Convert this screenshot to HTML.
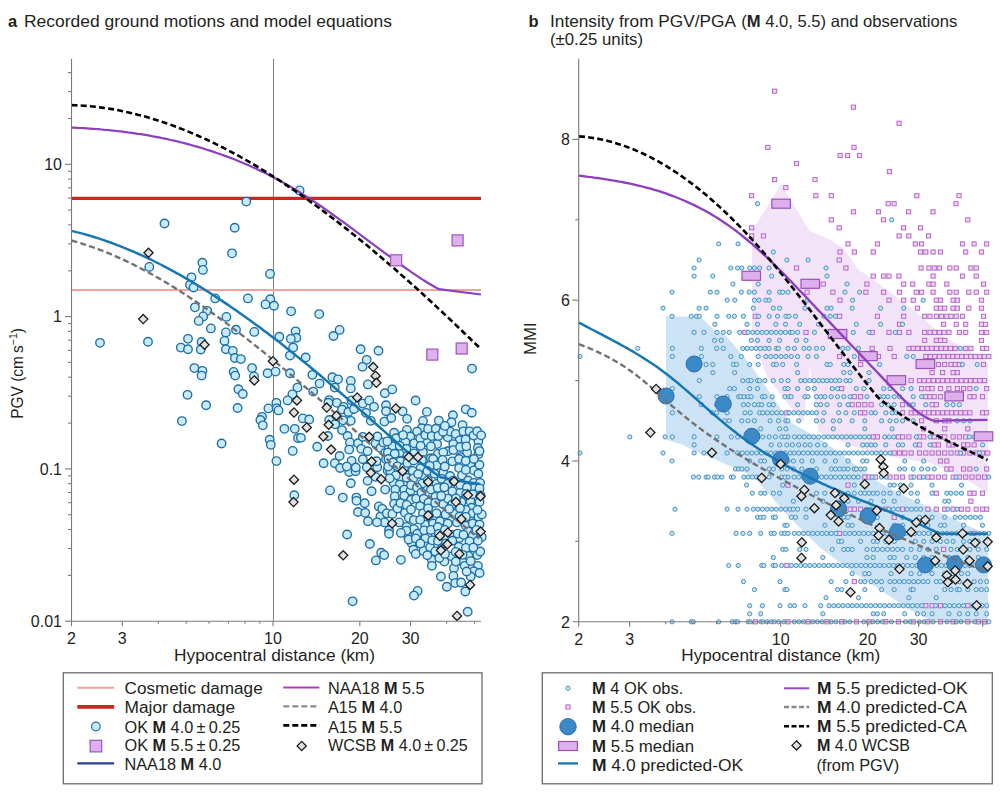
<!DOCTYPE html>
<html><head><meta charset="utf-8"><title>Ground motions and intensity</title>
<style>
html,body{margin:0;padding:0;background:#fff;}
body{width:1000px;height:796px;overflow:hidden;}
svg{display:block;}
svg text{font-family:'Liberation Sans', 'DejaVu Sans', sans-serif;fill:#231f20;}
</style></head><body>
<svg width="1000" height="796" viewBox="0 0 1000 796">
<text x="8" y="26.6" font-size="16.5" font-weight="bold">a</text>
<text x="24" y="26.6" font-size="16.5" textLength="368" lengthAdjust="spacingAndGlyphs">Recorded ground motions and model equations</text>
<text x="528.4" y="26.6" font-size="16.5" font-weight="bold">b</text>
<text x="550" y="26.6" font-size="16.5" textLength="186" lengthAdjust="spacingAndGlyphs">Intensity from PGV/PGA</text>
<text x="741.2" y="26.6" font-size="16.5" textLength="216" lengthAdjust="spacingAndGlyphs">(<tspan font-weight="bold">M</tspan> 4.0, 5.5) and observations</text>
<text x="550" y="44.6" font-size="16.5" textLength="93" lengthAdjust="spacingAndGlyphs">(±0.25 units)</text>
<line x1="273.5" y1="58.8" x2="273.5" y2="621.3" stroke="#808080" stroke-width="1"/>
<line x1="71.5" y1="289.9" x2="481" y2="289.9" stroke="#f3a39c" stroke-width="2"/>
<line x1="71.5" y1="198.4" x2="481" y2="198.4" stroke="#c9281f" stroke-width="3.4"/>
<g fill="#c9eaf9" stroke="#1c6fa6" stroke-width="1.35">
<circle cx="164.5" cy="223.5" r="4.25"/>
<circle cx="234.7" cy="227.7" r="4.25"/>
<circle cx="232" cy="253.3" r="4.25"/>
<circle cx="149.3" cy="266.9" r="4.25"/>
<circle cx="202.4" cy="262.7" r="4.25"/>
<circle cx="202.9" cy="269.9" r="4.25"/>
<circle cx="191.5" cy="277.3" r="4.25"/>
<circle cx="190" cy="284.8" r="4.25"/>
<circle cx="193.6" cy="287.5" r="4.25"/>
<circle cx="215.2" cy="298.4" r="4.25"/>
<circle cx="100" cy="342.8" r="4.25"/>
<circle cx="148" cy="341.7" r="4.25"/>
<circle cx="194.9" cy="307.3" r="4.25"/>
<circle cx="207.2" cy="310.8" r="4.25"/>
<circle cx="203.2" cy="316.4" r="4.25"/>
<circle cx="198.7" cy="320.9" r="4.25"/>
<circle cx="226.4" cy="316.9" r="4.25"/>
<circle cx="210.9" cy="328.4" r="4.25"/>
<circle cx="236" cy="329.7" r="4.25"/>
<circle cx="225.9" cy="332.4" r="4.25"/>
<circle cx="224.5" cy="340.9" r="4.25"/>
<circle cx="188" cy="338.8" r="4.25"/>
<circle cx="180.8" cy="347.6" r="4.25"/>
<circle cx="188" cy="349.2" r="4.25"/>
<circle cx="201.6" cy="342" r="4.25"/>
<circle cx="200.8" cy="349.5" r="4.25"/>
<circle cx="225.9" cy="349.2" r="4.25"/>
<circle cx="232.8" cy="350.8" r="4.25"/>
<circle cx="234.9" cy="358" r="4.25"/>
<circle cx="194.4" cy="368.1" r="4.25"/>
<circle cx="202.4" cy="370.8" r="4.25"/>
<circle cx="201.6" cy="375.6" r="4.25"/>
<circle cx="233.6" cy="371.9" r="4.25"/>
<circle cx="235.2" cy="375.6" r="4.25"/>
<circle cx="238.4" cy="389.2" r="4.25"/>
<circle cx="187.5" cy="394.8" r="4.25"/>
<circle cx="206.1" cy="405.2" r="4.25"/>
<circle cx="237.6" cy="408" r="4.25"/>
<circle cx="181.9" cy="421.1" r="4.25"/>
<circle cx="221.6" cy="443.5" r="4.25"/>
<circle cx="299.6" cy="190.4" r="4.25"/>
<circle cx="246.3" cy="201.6" r="4.25"/>
<circle cx="270" cy="273.9" r="4.25"/>
<circle cx="247.9" cy="298.4" r="4.25"/>
<circle cx="270.3" cy="299.2" r="4.25"/>
<circle cx="319.2" cy="314.1" r="4.25"/>
<circle cx="339.6" cy="329.9" r="4.25"/>
<circle cx="333.5" cy="336" r="4.25"/>
<circle cx="360.6" cy="349.2" r="4.25"/>
<circle cx="378.5" cy="350.7" r="4.25"/>
<circle cx="305.7" cy="357.5" r="4.25"/>
<circle cx="366.7" cy="359.8" r="4.25"/>
<circle cx="265.5" cy="304.4" r="4.25"/>
<circle cx="274" cy="305.7" r="4.25"/>
<circle cx="291.1" cy="311.3" r="4.25"/>
<circle cx="254.3" cy="331.9" r="4.25"/>
<circle cx="279.3" cy="336.7" r="4.25"/>
<circle cx="295.6" cy="331.3" r="4.25"/>
<circle cx="296.4" cy="337.7" r="4.25"/>
<circle cx="290.8" cy="338.8" r="4.25"/>
<circle cx="293.2" cy="347.6" r="4.25"/>
<circle cx="290" cy="355.6" r="4.25"/>
<circle cx="240.9" cy="359.1" r="4.25"/>
<circle cx="252.1" cy="368.1" r="4.25"/>
<circle cx="267.6" cy="373.2" r="4.25"/>
<circle cx="275.6" cy="371.6" r="4.25"/>
<circle cx="254" cy="376.4" r="4.25"/>
<circle cx="290" cy="373.2" r="4.25"/>
<circle cx="312.4" cy="374.8" r="4.25"/>
<circle cx="319.6" cy="383.6" r="4.25"/>
<circle cx="313.2" cy="391.6" r="4.25"/>
<circle cx="297.5" cy="387.6" r="4.25"/>
<circle cx="292.4" cy="394.3" r="4.25"/>
<circle cx="287.6" cy="400.4" r="4.25"/>
<circle cx="242.8" cy="394" r="4.25"/>
<circle cx="268.4" cy="408.4" r="4.25"/>
<circle cx="276.4" cy="402.8" r="4.25"/>
<circle cx="276.7" cy="408.4" r="4.25"/>
<circle cx="362.5" cy="366.8" r="4.25"/>
<circle cx="332.4" cy="377.2" r="4.25"/>
<circle cx="338" cy="379.3" r="4.25"/>
<circle cx="334.8" cy="387.6" r="4.25"/>
<circle cx="350.8" cy="380.9" r="4.25"/>
<circle cx="350.8" cy="388.4" r="4.25"/>
<circle cx="367.9" cy="384.4" r="4.25"/>
<circle cx="384.9" cy="393.2" r="4.25"/>
<circle cx="329.2" cy="400.1" r="4.25"/>
<circle cx="336.9" cy="402.8" r="4.25"/>
<circle cx="343.6" cy="406.8" r="4.25"/>
<circle cx="351.6" cy="400.4" r="4.25"/>
<circle cx="362.8" cy="403.6" r="4.25"/>
<circle cx="369.2" cy="400.4" r="4.25"/>
<circle cx="374" cy="406.8" r="4.25"/>
<circle cx="386" cy="405.2" r="4.25"/>
<circle cx="278.5" cy="410.4" r="4.25"/>
<circle cx="262" cy="416.8" r="4.25"/>
<circle cx="260.4" cy="420" r="4.25"/>
<circle cx="262.8" cy="425.3" r="4.25"/>
<circle cx="284.4" cy="428.8" r="4.25"/>
<circle cx="294.8" cy="428.8" r="4.25"/>
<circle cx="298" cy="438.1" r="4.25"/>
<circle cx="302.8" cy="418.4" r="4.25"/>
<circle cx="309.2" cy="419.5" r="4.25"/>
<circle cx="269.7" cy="439.7" r="4.25"/>
<circle cx="270.8" cy="444.8" r="4.25"/>
<circle cx="292.7" cy="450.9" r="4.25"/>
<circle cx="276.4" cy="461.1" r="4.25"/>
<circle cx="317.2" cy="446.7" r="4.25"/>
<circle cx="327.9" cy="436" r="4.25"/>
<circle cx="329.2" cy="420" r="4.25"/>
<circle cx="323.6" cy="463.2" r="4.25"/>
<circle cx="330" cy="490.4" r="4.25"/>
<circle cx="342.8" cy="497.6" r="4.25"/>
<circle cx="294.3" cy="495.2" r="4.25"/>
<circle cx="334.8" cy="463.2" r="4.25"/>
<circle cx="339.6" cy="456" r="4.25"/>
<circle cx="340.1" cy="468" r="4.25"/>
<circle cx="342" cy="430.1" r="4.25"/>
<circle cx="347.6" cy="436" r="4.25"/>
<circle cx="350" cy="442.4" r="4.25"/>
<circle cx="349.2" cy="449.6" r="4.25"/>
<circle cx="351.6" cy="460.8" r="4.25"/>
<circle cx="349.2" cy="472" r="4.25"/>
<circle cx="355.6" cy="471.2" r="4.25"/>
<circle cx="350.8" cy="483.2" r="4.25"/>
<circle cx="358" cy="443.2" r="4.25"/>
<circle cx="362.8" cy="436.8" r="4.25"/>
<circle cx="361.2" cy="448.8" r="4.25"/>
<circle cx="367.6" cy="451.2" r="4.25"/>
<circle cx="362.8" cy="459.2" r="4.25"/>
<circle cx="366.8" cy="467.2" r="4.25"/>
<circle cx="367.6" cy="480.8" r="4.25"/>
<circle cx="371.6" cy="491.2" r="4.25"/>
<circle cx="356.4" cy="497.6" r="4.25"/>
<circle cx="364.7" cy="503.2" r="4.25"/>
<circle cx="358" cy="512" r="4.25"/>
<circle cx="365.2" cy="512.8" r="4.25"/>
<circle cx="378.8" cy="506.4" r="4.25"/>
<circle cx="383.6" cy="512" r="4.25"/>
<circle cx="380.4" cy="516.5" r="4.25"/>
<circle cx="385.2" cy="489.6" r="4.25"/>
<circle cx="387.6" cy="470.4" r="4.25"/>
<circle cx="375.6" cy="443.2" r="4.25"/>
<circle cx="380.4" cy="448" r="4.25"/>
<circle cx="385.2" cy="452.8" r="4.25"/>
<circle cx="386" cy="459.2" r="4.25"/>
<circle cx="377.2" cy="467.2" r="4.25"/>
<circle cx="375.6" cy="476.8" r="4.25"/>
<circle cx="350.8" cy="420.8" r="4.25"/>
<circle cx="342" cy="409.6" r="4.25"/>
<circle cx="348.4" cy="412" r="4.25"/>
<circle cx="366" cy="412.8" r="4.25"/>
<circle cx="370.8" cy="420.8" r="4.25"/>
<circle cx="386" cy="411.2" r="4.25"/>
<circle cx="384.4" cy="421.6" r="4.25"/>
<circle cx="472" cy="368.6" r="4.25"/>
<circle cx="392.2" cy="389.4" r="4.25"/>
<circle cx="415.6" cy="400.5" r="4.25"/>
<circle cx="402.6" cy="411.3" r="4.25"/>
<circle cx="391.3" cy="418" r="4.25"/>
<circle cx="407.1" cy="418.8" r="4.25"/>
<circle cx="426.9" cy="411.8" r="4.25"/>
<circle cx="423" cy="420.9" r="4.25"/>
<circle cx="421.8" cy="428.2" r="4.25"/>
<circle cx="438.8" cy="420.6" r="4.25"/>
<circle cx="452.9" cy="415.2" r="4.25"/>
<circle cx="451.5" cy="422.2" r="4.25"/>
<circle cx="462.5" cy="425.1" r="4.25"/>
<circle cx="465.7" cy="409.3" r="4.25"/>
<circle cx="471.8" cy="412.7" r="4.25"/>
<circle cx="394.1" cy="432.7" r="4.25"/>
<circle cx="406.9" cy="429.9" r="4.25"/>
<circle cx="410.3" cy="436.5" r="4.25"/>
<circle cx="405.4" cy="442.1" r="4.25"/>
<circle cx="383.4" cy="442.4" r="4.25"/>
<circle cx="392.4" cy="446.3" r="4.25"/>
<circle cx="387.9" cy="452.5" r="4.25"/>
<circle cx="426.4" cy="442.1" r="4.25"/>
<circle cx="437.1" cy="444.1" r="4.25"/>
<circle cx="447.8" cy="437.3" r="4.25"/>
<circle cx="450.1" cy="431.6" r="4.25"/>
<circle cx="455.7" cy="433.9" r="4.25"/>
<circle cx="459.7" cy="440.3" r="4.25"/>
<circle cx="453.3" cy="444.1" r="4.25"/>
<circle cx="447.8" cy="451.2" r="4.25"/>
<circle cx="437.9" cy="453.9" r="4.25"/>
<circle cx="430.9" cy="458.2" r="4.25"/>
<circle cx="467.1" cy="452.5" r="4.25"/>
<circle cx="460.3" cy="457.1" r="4.25"/>
<circle cx="478.4" cy="441.2" r="4.25"/>
<circle cx="477.8" cy="448" r="4.25"/>
<circle cx="478.4" cy="454.2" r="4.25"/>
<circle cx="412.8" cy="449.7" r="4.25"/>
<circle cx="400.4" cy="452.5" r="4.25"/>
<circle cx="394.7" cy="453.7" r="4.25"/>
<circle cx="388.5" cy="459" r="4.25"/>
<circle cx="400.4" cy="461.3" r="4.25"/>
<circle cx="413.9" cy="453.4" r="4.25"/>
<circle cx="423" cy="452.3" r="4.25"/>
<circle cx="433.1" cy="459" r="4.25"/>
<circle cx="436.5" cy="465.3" r="4.25"/>
<circle cx="443.3" cy="452.3" r="4.25"/>
<circle cx="452.4" cy="461.3" r="4.25"/>
<circle cx="459.1" cy="459" r="4.25"/>
<circle cx="479.5" cy="451.1" r="4.25"/>
<circle cx="390.2" cy="470.9" r="4.25"/>
<circle cx="395.8" cy="475.4" r="4.25"/>
<circle cx="412.8" cy="470.9" r="4.25"/>
<circle cx="420.7" cy="468.1" r="4.25"/>
<circle cx="423.5" cy="475.4" r="4.25"/>
<circle cx="429.7" cy="465.8" r="4.25"/>
<circle cx="443.3" cy="472.6" r="4.25"/>
<circle cx="450.1" cy="476" r="4.25"/>
<circle cx="459.1" cy="468.1" r="4.25"/>
<circle cx="462" cy="475.4" r="4.25"/>
<circle cx="470.4" cy="464.7" r="4.25"/>
<circle cx="473.8" cy="470.4" r="4.25"/>
<circle cx="478.4" cy="473.7" r="4.25"/>
<circle cx="479.5" cy="464.7" r="4.25"/>
<circle cx="393.6" cy="482.8" r="4.25"/>
<circle cx="399.8" cy="484.5" r="4.25"/>
<circle cx="406.6" cy="477.7" r="4.25"/>
<circle cx="413.4" cy="478.3" r="4.25"/>
<circle cx="422.4" cy="483.4" r="4.25"/>
<circle cx="436.5" cy="483.9" r="4.25"/>
<circle cx="441.6" cy="478.8" r="4.25"/>
<circle cx="447.8" cy="483.9" r="4.25"/>
<circle cx="468.2" cy="480.5" r="4.25"/>
<circle cx="473.8" cy="482.8" r="4.25"/>
<circle cx="480.1" cy="482.8" r="4.25"/>
<circle cx="395.3" cy="489.6" r="4.25"/>
<circle cx="404.3" cy="489.6" r="4.25"/>
<circle cx="410.5" cy="490.7" r="4.25"/>
<circle cx="430.9" cy="489.6" r="4.25"/>
<circle cx="437.7" cy="487.9" r="4.25"/>
<circle cx="444.4" cy="487.3" r="4.25"/>
<circle cx="452.4" cy="491.3" r="4.25"/>
<circle cx="460.3" cy="492.4" r="4.25"/>
<circle cx="473.8" cy="488.4" r="4.25"/>
<circle cx="479.5" cy="488.4" r="4.25"/>
<circle cx="394.7" cy="496.4" r="4.25"/>
<circle cx="394.1" cy="503.7" r="4.25"/>
<circle cx="404.3" cy="495.8" r="4.25"/>
<circle cx="411.1" cy="499.7" r="4.25"/>
<circle cx="416.2" cy="498.6" r="4.25"/>
<circle cx="420.1" cy="506" r="4.25"/>
<circle cx="435.4" cy="496.9" r="4.25"/>
<circle cx="443.3" cy="504.3" r="4.25"/>
<circle cx="447.8" cy="498.6" r="4.25"/>
<circle cx="452.4" cy="504.3" r="4.25"/>
<circle cx="461.4" cy="502" r="4.25"/>
<circle cx="470.4" cy="500.9" r="4.25"/>
<circle cx="471.6" cy="507.7" r="4.25"/>
<circle cx="479.5" cy="502" r="4.25"/>
<circle cx="382.3" cy="508.8" r="4.25"/>
<circle cx="386.8" cy="513.3" r="4.25"/>
<circle cx="392.4" cy="513.9" r="4.25"/>
<circle cx="404.9" cy="512.7" r="4.25"/>
<circle cx="408.8" cy="517.8" r="4.25"/>
<circle cx="413.9" cy="520.1" r="4.25"/>
<circle cx="423" cy="513.3" r="4.25"/>
<circle cx="436.5" cy="513.3" r="4.25"/>
<circle cx="445.6" cy="514.4" r="4.25"/>
<circle cx="454.1" cy="513.9" r="4.25"/>
<circle cx="465.9" cy="509.9" r="4.25"/>
<circle cx="472.7" cy="513.3" r="4.25"/>
<circle cx="478.4" cy="516.7" r="4.25"/>
<circle cx="481.8" cy="514.4" r="4.25"/>
<circle cx="384.5" cy="522.4" r="4.25"/>
<circle cx="389" cy="530.3" r="4.25"/>
<circle cx="399.2" cy="522.4" r="4.25"/>
<circle cx="406.6" cy="526.9" r="4.25"/>
<circle cx="413.9" cy="529.1" r="4.25"/>
<circle cx="425.2" cy="524.6" r="4.25"/>
<circle cx="433.1" cy="523.5" r="4.25"/>
<circle cx="439.9" cy="521.2" r="4.25"/>
<circle cx="447.8" cy="523.5" r="4.25"/>
<circle cx="456.9" cy="522.4" r="4.25"/>
<circle cx="465.9" cy="525.7" r="4.25"/>
<circle cx="472.7" cy="523.5" r="4.25"/>
<circle cx="479.5" cy="524.6" r="4.25"/>
<circle cx="389" cy="533.7" r="4.25"/>
<circle cx="408.3" cy="537.1" r="4.25"/>
<circle cx="417.3" cy="533.7" r="4.25"/>
<circle cx="427.5" cy="535.9" r="4.25"/>
<circle cx="452.4" cy="534.8" r="4.25"/>
<circle cx="459.1" cy="538.2" r="4.25"/>
<circle cx="468.2" cy="531.4" r="4.25"/>
<circle cx="472.7" cy="535.9" r="4.25"/>
<circle cx="481.8" cy="537.1" r="4.25"/>
<circle cx="406.3" cy="530.6" r="4.25"/>
<circle cx="411.6" cy="543.1" r="4.25"/>
<circle cx="408.6" cy="539.5" r="4.25"/>
<circle cx="415.8" cy="538.4" r="4.25"/>
<circle cx="425.3" cy="538.4" r="4.25"/>
<circle cx="413.4" cy="549.7" r="4.25"/>
<circle cx="415.8" cy="553.9" r="4.25"/>
<circle cx="423.6" cy="550.9" r="4.25"/>
<circle cx="430.1" cy="547.3" r="4.25"/>
<circle cx="431.9" cy="559.8" r="4.25"/>
<circle cx="431.9" cy="565.8" r="4.25"/>
<circle cx="444.4" cy="561.6" r="4.25"/>
<circle cx="381.2" cy="552.7" r="4.25"/>
<circle cx="384.2" cy="555.1" r="4.25"/>
<circle cx="400.9" cy="559.8" r="4.25"/>
<circle cx="454" cy="568.2" r="4.25"/>
<circle cx="462.9" cy="562.2" r="4.25"/>
<circle cx="464.7" cy="565.8" r="4.25"/>
<circle cx="451.6" cy="556.3" r="4.25"/>
<circle cx="468.3" cy="555.7" r="4.25"/>
<circle cx="477.3" cy="555.1" r="4.25"/>
<circle cx="480.2" cy="551.5" r="4.25"/>
<circle cx="469.5" cy="541.3" r="4.25"/>
<circle cx="477.9" cy="540.7" r="4.25"/>
<circle cx="458.8" cy="546.7" r="4.25"/>
<circle cx="465.9" cy="547.9" r="4.25"/>
<circle cx="477.9" cy="565.8" r="4.25"/>
<circle cx="473.7" cy="571.2" r="4.25"/>
<circle cx="479.6" cy="573" r="4.25"/>
<circle cx="470.7" cy="576.5" r="4.25"/>
<circle cx="440.9" cy="576.5" r="4.25"/>
<circle cx="453.4" cy="575.9" r="4.25"/>
<circle cx="455.2" cy="583.1" r="4.25"/>
<circle cx="446.8" cy="586.7" r="4.25"/>
<circle cx="461.1" cy="582.5" r="4.25"/>
<circle cx="465.3" cy="591.5" r="4.25"/>
<circle cx="417.6" cy="590.9" r="4.25"/>
<circle cx="414" cy="595.6" r="4.25"/>
<circle cx="467.7" cy="611.7" r="4.25"/>
<circle cx="457.6" cy="533.6" r="4.25"/>
<circle cx="463.5" cy="534.8" r="4.25"/>
<circle cx="356.5" cy="500.8" r="4.25"/>
<circle cx="368" cy="521.2" r="4.25"/>
<circle cx="377" cy="522.3" r="4.25"/>
<circle cx="347.1" cy="534.5" r="4.25"/>
<circle cx="369.9" cy="544" r="4.25"/>
<circle cx="375.9" cy="560.4" r="4.25"/>
<circle cx="352.6" cy="601.3" r="4.25"/>
<circle cx="300.9" cy="437.8" r="4.25"/>
<circle cx="328.4" cy="402.7" r="4.25"/>
<circle cx="354" cy="409" r="4.25"/>
<circle cx="343.2" cy="420.3" r="4.25"/>
<circle cx="335.1" cy="424.3" r="4.25"/>
<circle cx="377.4" cy="436.5" r="4.25"/>
<circle cx="387.3" cy="441.4" r="4.25"/>
<circle cx="376.5" cy="461.2" r="4.25"/>
<circle cx="346.8" cy="466.6" r="4.25"/>
<circle cx="355.8" cy="467.5" r="4.25"/>
<circle cx="388.2" cy="466.6" r="4.25"/>
<circle cx="389.7" cy="478.3" r="4.25"/>
<circle cx="393" cy="462.5" r="4.25"/>
<circle cx="395.9" cy="438.2" r="4.25"/>
<circle cx="397.4" cy="466.3" r="4.25"/>
<circle cx="397.4" cy="508.5" r="4.25"/>
<circle cx="399.7" cy="445.8" r="4.25"/>
<circle cx="400.5" cy="503" r="4.25"/>
<circle cx="400.9" cy="532.9" r="4.25"/>
<circle cx="403.1" cy="435.1" r="4.25"/>
<circle cx="404.1" cy="467.5" r="4.25"/>
<circle cx="406.3" cy="448.9" r="4.25"/>
<circle cx="407.3" cy="455.9" r="4.25"/>
<circle cx="407.4" cy="462.9" r="4.25"/>
<circle cx="406.7" cy="504.9" r="4.25"/>
<circle cx="411" cy="485.1" r="4.25"/>
<circle cx="411" cy="509.6" r="4.25"/>
<circle cx="414.2" cy="443.3" r="4.25"/>
<circle cx="413.7" cy="460.5" r="4.25"/>
<circle cx="417.1" cy="431.6" r="4.25"/>
<circle cx="418.1" cy="474" r="4.25"/>
<circle cx="417" cy="487.5" r="4.25"/>
<circle cx="420.2" cy="438.2" r="4.25"/>
<circle cx="420.6" cy="445.8" r="4.25"/>
<circle cx="421.9" cy="460" r="4.25"/>
<circle cx="421.5" cy="492.5" r="4.25"/>
<circle cx="420.2" cy="519.8" r="4.25"/>
<circle cx="420.4" cy="543.5" r="4.25"/>
<circle cx="425.3" cy="435" r="4.25"/>
<circle cx="423.8" cy="498.7" r="4.25"/>
<circle cx="424.1" cy="530.3" r="4.25"/>
<circle cx="428.1" cy="428.9" r="4.25"/>
<circle cx="427.4" cy="471" r="4.25"/>
<circle cx="427.8" cy="480.4" r="4.25"/>
<circle cx="428.6" cy="502.6" r="4.25"/>
<circle cx="428.1" cy="508.3" r="4.25"/>
<circle cx="428.7" cy="515.5" r="4.25"/>
<circle cx="427.3" cy="555.2" r="4.25"/>
<circle cx="431.7" cy="436.1" r="4.25"/>
<circle cx="430.9" cy="446.4" r="4.25"/>
<circle cx="430.9" cy="529.9" r="4.25"/>
<circle cx="432.2" cy="540.3" r="4.25"/>
<circle cx="435.8" cy="428.7" r="4.25"/>
<circle cx="434.6" cy="473.8" r="4.25"/>
<circle cx="435.2" cy="502.9" r="4.25"/>
<circle cx="435.3" cy="551.4" r="4.25"/>
<circle cx="438.4" cy="435.9" r="4.25"/>
<circle cx="437.9" cy="527" r="4.25"/>
<circle cx="438.7" cy="533.9" r="4.25"/>
<circle cx="438" cy="541" r="4.25"/>
<circle cx="439.3" cy="558" r="4.25"/>
<circle cx="443" cy="431.7" r="4.25"/>
<circle cx="442.6" cy="459.9" r="4.25"/>
<circle cx="441.2" cy="495.9" r="4.25"/>
<circle cx="442.2" cy="548" r="4.25"/>
<circle cx="444.9" cy="425.9" r="4.25"/>
<circle cx="444.8" cy="466.5" r="4.25"/>
<circle cx="444.9" cy="529.9" r="4.25"/>
<circle cx="445.6" cy="536.3" r="4.25"/>
<circle cx="445.9" cy="543.4" r="4.25"/>
<circle cx="445" cy="553.9" r="4.25"/>
<circle cx="449.2" cy="509" r="4.25"/>
<circle cx="453.4" cy="450.1" r="4.25"/>
<circle cx="453.4" cy="480.6" r="4.25"/>
<circle cx="452.3" cy="540.7" r="4.25"/>
<circle cx="456" cy="498.4" r="4.25"/>
<circle cx="455.7" cy="551.9" r="4.25"/>
<circle cx="455.8" cy="561.6" r="4.25"/>
<circle cx="460.1" cy="447" r="4.25"/>
<circle cx="460.2" cy="484.7" r="4.25"/>
<circle cx="460" cy="508.2" r="4.25"/>
<circle cx="459.5" cy="516.6" r="4.25"/>
<circle cx="463.4" cy="431.4" r="4.25"/>
<circle cx="462.6" cy="554.8" r="4.25"/>
<circle cx="465.6" cy="439.4" r="4.25"/>
<circle cx="466.3" cy="446.3" r="4.25"/>
<circle cx="465.7" cy="460.8" r="4.25"/>
<circle cx="465.8" cy="469.9" r="4.25"/>
<circle cx="466.9" cy="487.5" r="4.25"/>
<circle cx="466.2" cy="494" r="4.25"/>
<circle cx="465.9" cy="516.8" r="4.25"/>
<circle cx="466.6" cy="571.5" r="4.25"/>
<circle cx="469.6" cy="431.3" r="4.25"/>
<circle cx="470.7" cy="561.1" r="4.25"/>
<circle cx="473.5" cy="435.5" r="4.25"/>
<circle cx="473.9" cy="459" r="4.25"/>
<circle cx="472.9" cy="494.2" r="4.25"/>
<circle cx="473.3" cy="547.6" r="4.25"/>
<circle cx="477.2" cy="431.2" r="4.25"/>
<circle cx="477.5" cy="509.9" r="4.25"/>
<circle cx="476.4" cy="529.9" r="4.25"/>
<circle cx="481.2" cy="435.3" r="4.25"/>
<circle cx="480.6" cy="495.5" r="4.25"/>
</g>
<path d="M71.5,127.6 L74.5,127.7 L77.5,127.9 L80.5,128.0 L83.5,128.2 L86.6,128.4 L89.6,128.6 L92.6,128.8 L95.6,129.0 L98.6,129.2 L101.6,129.5 L104.6,129.8 L107.6,130.0 L110.6,130.3 L113.6,130.7 L116.7,131.0 L119.7,131.3 L122.7,131.7 L125.7,132.1 L128.7,132.5 L131.7,132.9 L134.7,133.3 L137.7,133.8 L140.7,134.2 L143.8,134.7 L146.8,135.2 L149.8,135.7 L152.8,136.3 L155.8,136.8 L158.8,137.4 L161.8,138.0 L164.8,138.6 L167.8,139.3 L170.9,140.0 L173.9,140.6 L176.9,141.3 L179.9,142.1 L182.9,142.8 L185.9,143.6 L188.9,144.4 L191.9,145.2 L194.9,146.1 L197.9,146.9 L201.0,147.8 L204.0,148.7 L207.0,149.7 L210.0,150.6 L213.0,151.6 L216.0,152.7 L219.0,153.7 L222.0,154.8 L225.0,155.9 L228.1,157.0 L231.1,158.1 L234.1,159.3 L237.1,160.5 L240.1,161.7 L243.1,163.0 L246.1,164.3 L249.1,165.6 L252.1,167.0 L255.2,168.3 L258.2,169.7 L261.2,171.2 L264.2,172.6 L267.2,174.1 L270.2,175.7 L273.2,177.2 L276.2,178.8 L279.2,180.4 L282.2,182.1 L285.3,183.8 L288.3,185.5 L291.3,187.2 L294.3,189.0 L297.3,190.8 L300.3,192.7 L303.3,194.6 L306.3,196.5 L309.3,198.4 L312.4,200.4 L315.4,202.4 L318.4,204.5 L321.4,206.5 L324.4,208.6 L327.4,210.7 L330.4,212.8 L333.4,215.0 L336.4,217.1 L339.4,219.3 L342.5,221.5 L345.5,223.7 L348.5,225.9 L351.5,228.1 L354.5,230.4 L357.5,232.6 L360.5,234.8 L363.5,237.1 L366.5,239.3 L369.6,241.6 L372.6,243.8 L375.6,246.1 L378.6,248.3 L381.6,250.6 L384.6,252.8 L387.6,255.0 L390.6,257.2 L393.6,259.4 L396.7,261.6 L399.7,263.8 L402.7,266.0 L405.7,268.1 L408.7,270.2 L411.7,272.3 L414.7,274.3 L417.7,276.4 L420.7,278.3 L423.7,280.3 L426.8,282.2 L429.8,284.0 L432.8,285.8 L435.8,287.5 L438.8,289.2 L481.0,294.5" fill="none" stroke="#8d3fbf" stroke-width="2.2"/>
<path d="M71.5,105.1 L74.5,105.2 L77.5,105.4 L80.5,105.5 L83.5,105.7 L86.6,105.9 L89.6,106.2 L92.6,106.5 L95.6,106.8 L98.6,107.2 L101.6,107.6 L104.6,108.0 L107.6,108.4 L110.6,108.9 L113.7,109.4 L116.7,110.0 L119.7,110.6 L122.7,111.2 L125.7,111.8 L128.7,112.5 L131.7,113.2 L134.7,113.9 L137.7,114.7 L140.8,115.4 L143.8,116.3 L146.8,117.1 L149.8,118.0 L152.8,118.9 L155.8,119.8 L158.8,120.8 L161.8,121.8 L164.8,122.8 L167.9,123.8 L170.9,124.9 L173.9,126.0 L176.9,127.1 L179.9,128.3 L182.9,129.4 L185.9,130.7 L188.9,131.9 L191.9,133.1 L195.0,134.4 L198.0,135.7 L201.0,137.1 L204.0,138.4 L207.0,139.8 L210.0,141.2 L213.0,142.7 L216.0,144.2 L219.0,145.6 L222.1,147.2 L225.1,148.7 L228.1,150.3 L231.1,151.8 L234.1,153.5 L237.1,155.1 L240.1,156.7 L243.1,158.4 L246.1,160.1 L249.2,161.9 L252.2,163.6 L255.2,165.4 L258.2,167.2 L261.2,169.0 L264.2,170.8 L267.2,172.7 L270.2,174.6 L273.2,176.5 L276.2,178.4 L279.3,180.3 L282.3,182.3 L285.3,184.3 L288.3,186.3 L291.3,188.3 L294.3,190.4 L297.3,192.4 L300.3,194.5 L303.3,196.6 L306.4,198.8 L309.4,200.9 L312.4,203.1 L315.4,205.3 L318.4,207.5 L321.4,209.7 L324.4,211.9 L327.4,214.2 L330.4,216.5 L333.5,218.8 L336.5,221.1 L339.5,223.4 L342.5,225.8 L345.5,228.1 L348.5,230.5 L351.5,232.9 L354.5,235.3 L357.5,237.7 L360.6,240.2 L363.6,242.7 L366.6,245.1 L369.6,247.6 L372.6,250.1 L375.6,252.7 L378.6,255.2 L381.6,257.8 L384.6,260.3 L387.7,262.9 L390.7,265.5 L393.7,268.1 L396.7,270.8 L399.7,273.4 L402.7,276.1 L405.7,278.7 L408.7,281.4 L411.7,284.1 L414.8,286.8 L417.8,289.5 L420.8,292.3 L423.8,295.0 L426.8,297.8 L429.8,300.5 L432.8,303.3 L435.8,306.1 L438.8,308.9 L441.9,311.7 L444.9,314.6 L447.9,317.4 L450.9,320.2 L453.9,323.1 L456.9,326.0 L459.9,328.8 L462.9,331.7 L465.9,334.6 L469.0,337.5 L472.0,340.5 L475.0,343.4 L478.0,346.3 L481.0,349.3" fill="none" stroke="#000" stroke-width="2.6" stroke-dasharray="6 3.2"/>
<path d="M71.5,240.5 L74.5,241.3 L77.5,242.2 L80.6,243.1 L83.6,244.1 L86.6,245.0 L89.6,246.1 L92.6,247.1 L95.7,248.2 L98.7,249.3 L101.7,250.5 L104.7,251.7 L107.7,252.9 L110.8,254.2 L113.8,255.4 L116.8,256.8 L119.8,258.1 L122.8,259.5 L125.9,260.9 L128.9,262.4 L131.9,263.8 L134.9,265.4 L137.9,266.9 L141.0,268.5 L144.0,270.1 L147.0,271.7 L150.0,273.3 L153.0,275.0 L156.1,276.7 L159.1,278.4 L162.1,280.2 L165.1,282.0 L168.1,283.8 L171.2,285.6 L174.2,287.5 L177.2,289.4 L180.2,291.3 L183.2,293.2 L186.3,295.2 L189.3,297.2 L192.3,299.2 L195.3,301.2 L198.3,303.3 L201.4,305.3 L204.4,307.4 L207.4,309.5 L210.4,311.7 L213.4,313.8 L216.5,316.0 L219.5,318.2 L222.5,320.4 L225.5,322.6 L228.5,324.9 L231.6,327.2 L234.6,329.4 L237.6,331.8 L240.6,334.1 L243.6,336.4 L246.7,338.8 L249.7,341.1 L252.7,343.5 L255.7,345.9 L258.7,348.3 L261.8,350.7 L264.8,353.2 L267.8,355.6 L270.8,358.1 L273.8,360.6 L276.9,363.1 L279.9,365.6 L282.9,368.1 L285.9,370.6 L288.9,373.2 L292.0,375.7 L295.0,378.3 L298.0,380.9 L301.0,383.4 L304.0,386.0 L307.1,388.6 L310.1,391.2 L313.1,393.8 L316.1,396.5 L319.1,399.1 L322.2,401.7 L325.2,404.4 L328.2,407.0 L331.2,409.7 L334.2,412.3 L337.3,415.0 L340.3,417.6 L343.3,420.3 L346.3,423.0 L349.3,425.7 L352.4,428.3 L355.4,431.0 L358.4,433.7 L361.4,436.4 L364.4,439.1 L367.5,441.8 L370.5,444.5 L373.5,447.2 L376.5,449.8 L379.5,452.5 L382.6,455.2 L385.6,457.9 L388.6,460.6 L391.6,463.3 L394.6,466.0 L397.7,468.7 L400.7,471.3 L403.7,474.0 L406.7,476.7 L409.7,479.3 L412.8,482.0 L415.8,484.7 L418.8,487.3 L421.8,490.0 L424.8,492.6 L427.9,495.2 L430.9,497.9 L433.9,500.5 L436.9,503.1 L439.9,505.7 L443.0,508.3 L446.0,510.9 L449.0,513.5 L452.0,516.0 L455.0,518.6 L458.1,521.2 L461.1,523.7 L464.1,526.2 L467.1,528.7 L470.1,531.2 L473.2,533.7 L476.2,536.2 L479.2,538.7" fill="none" stroke="#727272" stroke-width="2.4" stroke-dasharray="6 3.2"/>
<path d="M71.5,230.9 L74.5,231.6 L77.5,232.4 L80.5,233.1 L83.5,233.9 L86.5,234.8 L89.5,235.6 L92.5,236.5 L95.5,237.5 L98.5,238.4 L101.5,239.4 L104.5,240.4 L107.5,241.5 L110.5,242.5 L113.5,243.6 L116.5,244.8 L119.5,245.9 L122.5,247.1 L125.5,248.3 L128.5,249.6 L131.5,250.9 L134.6,252.2 L137.6,253.5 L140.6,254.8 L143.6,256.2 L146.6,257.6 L149.6,259.0 L152.6,260.5 L155.6,262.0 L158.6,263.5 L161.6,265.0 L164.6,266.6 L167.6,268.2 L170.6,269.8 L173.6,271.4 L176.6,273.1 L179.6,274.7 L182.6,276.4 L185.6,278.2 L188.6,279.9 L191.6,281.7 L194.6,283.5 L197.6,285.3 L200.6,287.1 L203.6,289.0 L206.6,290.9 L209.6,292.8 L212.6,294.7 L215.6,296.6 L218.6,298.6 L221.6,300.6 L224.6,302.6 L227.6,304.6 L230.6,306.7 L233.6,308.7 L236.6,310.8 L239.6,312.9 L242.6,315.0 L245.6,317.2 L248.6,319.3 L251.6,321.5 L254.6,323.7 L257.7,325.9 L260.7,328.1 L263.7,330.4 L266.7,332.6 L269.7,334.9 L272.7,337.2 L275.7,339.5 L278.7,341.8 L281.7,344.1 L284.7,346.5 L287.7,348.9 L290.7,351.3 L293.7,353.6 L296.7,356.1 L299.7,358.5 L302.7,360.9 L305.7,363.4 L308.7,365.8 L311.7,368.3 L314.7,370.8 L317.7,373.3 L320.7,375.8 L323.7,378.4 L326.7,380.9 L329.7,383.5 L332.7,386.0 L335.7,388.6 L338.7,391.2 L341.7,393.8 L344.7,396.4 L347.7,399.0 L350.7,401.6 L353.7,404.2 L356.7,406.9 L359.7,409.5 L362.7,412.2 L365.7,414.8 L368.7,417.5 L371.7,420.2 L374.7,422.8 L377.7,425.5 L380.8,428.2 L383.8,430.9 L386.8,433.6 L389.8,436.3 L392.8,439.0 L395.8,441.7 L398.8,444.3 L401.8,447.0 L404.8,449.6 L407.8,452.2 L410.8,454.7 L413.8,457.2 L416.8,459.7 L419.8,462.1 L422.8,464.5 L425.8,466.8 L428.8,469.0 L431.8,471.2 L434.8,473.3 L437.8,475.3 L440.8,477.3 L458.0,480.8 L480.0,484.0" fill="none" stroke="#1777b2" stroke-width="2.5"/>
<g fill="#e0e0e0" stroke="#1a1a1a" stroke-width="1.3">
<path d="M148.5,248.2l4.6,4.6l-4.6,4.6l-4.6,-4.6z"/>
<path d="M143.2,314.5l4.6,4.6l-4.6,4.6l-4.6,-4.6z"/>
<path d="M204.5,340.1l4.6,4.6l-4.6,4.6l-4.6,-4.6z"/>
<path d="M272.9,356.6l4.6,4.6l-4.6,4.6l-4.6,-4.6z"/>
<path d="M254.3,375.8l4.6,4.6l-4.6,4.6l-4.6,-4.6z"/>
<path d="M296.9,395.8l4.6,4.6l-4.6,4.6l-4.6,-4.6z"/>
<path d="M326.8,403l4.6,4.6l-4.6,4.6l-4.6,-4.6z"/>
<path d="M357.2,392.9l4.6,4.6l-4.6,4.6l-4.6,-4.6z"/>
<path d="M373.2,362.5l4.6,4.6l-4.6,4.6l-4.6,-4.6z"/>
<path d="M375.6,371.3l4.6,4.6l-4.6,4.6l-4.6,-4.6z"/>
<path d="M376.4,378.2l4.6,4.6l-4.6,4.6l-4.6,-4.6z"/>
<path d="M294,407.9l4.6,4.6l-4.6,4.6l-4.6,-4.6z"/>
<path d="M306.8,422.9l4.6,4.6l-4.6,4.6l-4.6,-4.6z"/>
<path d="M336.4,411.1l4.6,4.6l-4.6,4.6l-4.6,-4.6z"/>
<path d="M328.7,420.2l4.6,4.6l-4.6,4.6l-4.6,-4.6z"/>
<path d="M323.3,431.9l4.6,4.6l-4.6,4.6l-4.6,-4.6z"/>
<path d="M331.1,445l4.6,4.6l-4.6,4.6l-4.6,-4.6z"/>
<path d="M294,475.1l4.6,4.6l-4.6,4.6l-4.6,-4.6z"/>
<path d="M293.5,497.5l4.6,4.6l-4.6,4.6l-4.6,-4.6z"/>
<path d="M369.2,432.2l4.6,4.6l-4.6,4.6l-4.6,-4.6z"/>
<path d="M371.6,457l4.6,4.6l-4.6,4.6l-4.6,-4.6z"/>
<path d="M370.8,468.2l4.6,4.6l-4.6,4.6l-4.6,-4.6z"/>
<path d="M381.2,474.6l4.6,4.6l-4.6,4.6l-4.6,-4.6z"/>
<path d="M395.8,403.8l4.6,4.6l-4.6,4.6l-4.6,-4.6z"/>
<path d="M408.8,452.5l4.6,4.6l-4.6,4.6l-4.6,-4.6z"/>
<path d="M417.9,452.5l4.6,4.6l-4.6,4.6l-4.6,-4.6z"/>
<path d="M428.2,477.4l4.6,4.6l-4.6,4.6l-4.6,-4.6z"/>
<path d="M454.1,476.9l4.6,4.6l-4.6,4.6l-4.6,-4.6z"/>
<path d="M467.9,490.5l4.6,4.6l-4.6,4.6l-4.6,-4.6z"/>
<path d="M480.5,491.7l4.6,4.6l-4.6,4.6l-4.6,-4.6z"/>
<path d="M455.9,497.5l4.6,4.6l-4.6,4.6l-4.6,-4.6z"/>
<path d="M428.2,510.8l4.6,4.6l-4.6,4.6l-4.6,-4.6z"/>
<path d="M461.4,514.4l4.6,4.6l-4.6,4.6l-4.6,-4.6z"/>
<path d="M392.1,518.9l4.6,4.6l-4.6,4.6l-4.6,-4.6z"/>
<path d="M402.6,466.6l4.6,4.6l-4.6,4.6l-4.6,-4.6z"/>
<path d="M480.6,527l4.6,4.6l-4.6,4.6l-4.6,-4.6z"/>
<path d="M447.8,527.9l4.6,4.6l-4.6,4.6l-4.6,-4.6z"/>
<path d="M439.9,531.3l4.6,4.6l-4.6,4.6l-4.6,-4.6z"/>
<path d="M447.4,539.7l4.6,4.6l-4.6,4.6l-4.6,-4.6z"/>
<path d="M440.9,545.7l4.6,4.6l-4.6,4.6l-4.6,-4.6z"/>
<path d="M459.4,549.3l4.6,4.6l-4.6,4.6l-4.6,-4.6z"/>
<path d="M470.1,580.3l4.6,4.6l-4.6,4.6l-4.6,-4.6z"/>
<path d="M457,611.3l4.6,4.6l-4.6,4.6l-4.6,-4.6z"/>
<path d="M343.2,550.7l4.6,4.6l-4.6,4.6l-4.6,-4.6z"/>
</g>
<g fill="#deb0ee" stroke="#9c55bb" stroke-width="1.2">
<rect x="390.6" y="254.8" width="11" height="11"/>
<rect x="452.1" y="234.9" width="11" height="11"/>
<rect x="426.8" y="349.1" width="11" height="11"/>
<rect x="456.2" y="343" width="11" height="11"/>
</g>
<g stroke="#7a7a7a" stroke-width="1.1" fill="none">
<line x1="71.5" y1="58.8" x2="71.5" y2="621.8"/>
<line x1="71.0" y1="621.3" x2="481" y2="621.3"/>
<line x1="65" y1="621.2" x2="71.5" y2="621.2"/>
<line x1="68" y1="575.4" x2="71.5" y2="575.4"/>
<line x1="68" y1="548.5" x2="71.5" y2="548.5"/>
<line x1="68" y1="529.5" x2="71.5" y2="529.5"/>
<line x1="68" y1="514.7" x2="71.5" y2="514.7"/>
<line x1="68" y1="502.7" x2="71.5" y2="502.7"/>
<line x1="68" y1="492.5" x2="71.5" y2="492.5"/>
<line x1="68" y1="483.7" x2="71.5" y2="483.7"/>
<line x1="68" y1="475.9" x2="71.5" y2="475.9"/>
<line x1="65" y1="468.9" x2="71.5" y2="468.9"/>
<line x1="68" y1="423.1" x2="71.5" y2="423.1"/>
<line x1="68" y1="396.2" x2="71.5" y2="396.2"/>
<line x1="68" y1="377.2" x2="71.5" y2="377.2"/>
<line x1="68" y1="362.4" x2="71.5" y2="362.4"/>
<line x1="68" y1="350.4" x2="71.5" y2="350.4"/>
<line x1="68" y1="340.2" x2="71.5" y2="340.2"/>
<line x1="68" y1="331.4" x2="71.5" y2="331.4"/>
<line x1="68" y1="323.6" x2="71.5" y2="323.6"/>
<line x1="65" y1="316.6" x2="71.5" y2="316.6"/>
<line x1="68" y1="270.8" x2="71.5" y2="270.8"/>
<line x1="68" y1="243.9" x2="71.5" y2="243.9"/>
<line x1="68" y1="224.9" x2="71.5" y2="224.9"/>
<line x1="68" y1="210.1" x2="71.5" y2="210.1"/>
<line x1="68" y1="198.1" x2="71.5" y2="198.1"/>
<line x1="68" y1="187.9" x2="71.5" y2="187.9"/>
<line x1="68" y1="179.1" x2="71.5" y2="179.1"/>
<line x1="68" y1="171.3" x2="71.5" y2="171.3"/>
<line x1="65" y1="164.3" x2="71.5" y2="164.3"/>
<line x1="68" y1="118.5" x2="71.5" y2="118.5"/>
<line x1="68" y1="91.6" x2="71.5" y2="91.6"/>
<line x1="68" y1="72.6" x2="71.5" y2="72.6"/>
<line x1="71.5" y1="621.3" x2="71.5" y2="626.3"/>
<line x1="122.3" y1="621.3" x2="122.3" y2="626.3"/>
<line x1="158.3" y1="621.3" x2="158.3" y2="623.8"/>
<line x1="186.2" y1="621.3" x2="186.2" y2="623.8"/>
<line x1="209.1" y1="621.3" x2="209.1" y2="623.8"/>
<line x1="228.4" y1="621.3" x2="228.4" y2="623.8"/>
<line x1="245.1" y1="621.3" x2="245.1" y2="623.8"/>
<line x1="259.8" y1="621.3" x2="259.8" y2="623.8"/>
<line x1="273" y1="621.3" x2="273" y2="626.3"/>
<line x1="359.8" y1="621.3" x2="359.8" y2="626.3"/>
<line x1="410.6" y1="621.3" x2="410.6" y2="626.3"/>
<line x1="446.6" y1="621.3" x2="446.6" y2="623.8"/>
<line x1="474.5" y1="621.3" x2="474.5" y2="623.8"/>
</g>
<text x="62" y="170" font-size="16" text-anchor="end">10</text>
<text x="62" y="322.3" font-size="16" text-anchor="end">1</text>
<text x="62" y="474.6" font-size="16" text-anchor="end">0.1</text>
<text x="62" y="626.9" font-size="16" text-anchor="end">0.01</text>
<text x="71.5" y="644.4" font-size="16" text-anchor="middle">2</text>
<text x="122.3" y="644.4" font-size="16" text-anchor="middle">3</text>
<text x="273" y="644.4" font-size="16" text-anchor="middle">10</text>
<text x="359.8" y="644.4" font-size="16" text-anchor="middle">20</text>
<text x="410.6" y="644.4" font-size="16" text-anchor="middle">30</text>
<text x="174" y="661" font-size="16" textLength="201" lengthAdjust="spacingAndGlyphs">Hypocentral distance (km)</text>
<text transform="translate(22.5,418.7) rotate(-90)" font-size="16" textLength="90.7" lengthAdjust="spacingAndGlyphs">PGV (cm s<tspan dy="-6" font-size="11">−1</tspan><tspan dy="6">)</tspan></text>
<path d="M752,231 L781.1,184 L809.6,231 L827,238 L843.8,248.5 L858.5,269.5 L879.5,284.2 L896.3,296.8 L915.3,311.5 L932,326.2 L945,337 L988,362 L988,493 L960,476 L930,463 L880,455 L850,445 L823,434 L802,421 L785,400 L768,378 L752,340Z" fill="#f3e3f8"/>
<path d="M803,427L810,366L818,430Z" fill="#fff"/>
<path d="M666,316.4 L699.7,316.4 L714.5,330 L726.3,336.3 L745,358 L761.5,380.3 L778,405 L790,422 L823,441 L880,483 L905,496 L988,535 L988,625 L930,620 L910,610 L882,591 L850.6,570.6 L819.2,547.1 L784.7,512.6 L775,501 L765,489 L752,476 L730,466 L714,458.8 L698,452.4 L682,444.4 L666,439.6Z" fill="#cbe3f4"/>
<g fill="#f3d2f7" stroke="#b066c8" stroke-width="0.95">
<rect x="784.8" y="563.4" width="4.2" height="4.2"/>
<rect x="753.3" y="619.7" width="4.2" height="4.2"/>
<rect x="785.9" y="619.7" width="4.2" height="4.2"/>
<rect x="837.5" y="531.3" width="4.2" height="4.2"/>
<rect x="972" y="531.3" width="4.2" height="4.2"/>
<rect x="941.5" y="547.3" width="4.2" height="4.2"/>
<rect x="852.2" y="579.5" width="4.2" height="4.2"/>
<rect x="923.7" y="603.6" width="4.2" height="4.2"/>
<rect x="930" y="603.6" width="4.2" height="4.2"/>
<rect x="938.4" y="603.6" width="4.2" height="4.2"/>
<rect x="965.7" y="603.6" width="4.2" height="4.2"/>
<rect x="806" y="619.7" width="4.2" height="4.2"/>
<rect x="824.9" y="619.7" width="4.2" height="4.2"/>
<rect x="839.6" y="619.7" width="4.2" height="4.2"/>
<rect x="854.3" y="619.7" width="4.2" height="4.2"/>
<rect x="866.9" y="619.7" width="4.2" height="4.2"/>
<rect x="883.7" y="619.7" width="4.2" height="4.2"/>
<rect x="896.3" y="619.7" width="4.2" height="4.2"/>
<rect x="911.1" y="619.7" width="4.2" height="4.2"/>
<rect x="925.8" y="619.7" width="4.2" height="4.2"/>
<rect x="938.4" y="619.7" width="4.2" height="4.2"/>
<rect x="951" y="619.7" width="4.2" height="4.2"/>
<rect x="965.7" y="619.7" width="4.2" height="4.2"/>
<rect x="976.2" y="619.7" width="4.2" height="4.2"/>
<rect x="982.5" y="619.7" width="4.2" height="4.2"/>
<rect x="785.9" y="483" width="4.2" height="4.2"/>
<rect x="871.1" y="434.8" width="4.2" height="4.2"/>
<rect x="875.3" y="434.8" width="4.2" height="4.2"/>
<rect x="896.3" y="434.8" width="4.2" height="4.2"/>
<rect x="900.5" y="434.8" width="4.2" height="4.2"/>
<rect x="906.8" y="434.8" width="4.2" height="4.2"/>
<rect x="917.4" y="434.8" width="4.2" height="4.2"/>
<rect x="921.6" y="434.8" width="4.2" height="4.2"/>
<rect x="932.1" y="434.8" width="4.2" height="4.2"/>
<rect x="938.4" y="434.8" width="4.2" height="4.2"/>
<rect x="942.6" y="434.8" width="4.2" height="4.2"/>
<rect x="951" y="434.8" width="4.2" height="4.2"/>
<rect x="957.3" y="434.8" width="4.2" height="4.2"/>
<rect x="963.6" y="434.8" width="4.2" height="4.2"/>
<rect x="917.4" y="442.8" width="4.2" height="4.2"/>
<rect x="932.1" y="442.8" width="4.2" height="4.2"/>
<rect x="936.3" y="442.8" width="4.2" height="4.2"/>
<rect x="946.8" y="442.8" width="4.2" height="4.2"/>
<rect x="951" y="442.8" width="4.2" height="4.2"/>
<rect x="961.5" y="442.8" width="4.2" height="4.2"/>
<rect x="965.7" y="442.8" width="4.2" height="4.2"/>
<rect x="972" y="442.8" width="4.2" height="4.2"/>
<rect x="892.1" y="450.9" width="4.2" height="4.2"/>
<rect x="897.4" y="450.9" width="4.2" height="4.2"/>
<rect x="902.6" y="450.9" width="4.2" height="4.2"/>
<rect x="909" y="450.9" width="4.2" height="4.2"/>
<rect x="917.4" y="450.9" width="4.2" height="4.2"/>
<rect x="923.7" y="450.9" width="4.2" height="4.2"/>
<rect x="930" y="450.9" width="4.2" height="4.2"/>
<rect x="936.3" y="450.9" width="4.2" height="4.2"/>
<rect x="942.6" y="450.9" width="4.2" height="4.2"/>
<rect x="948.9" y="450.9" width="4.2" height="4.2"/>
<rect x="955.2" y="450.9" width="4.2" height="4.2"/>
<rect x="961.5" y="450.9" width="4.2" height="4.2"/>
<rect x="967.8" y="450.9" width="4.2" height="4.2"/>
<rect x="974.1" y="450.9" width="4.2" height="4.2"/>
<rect x="980.4" y="450.9" width="4.2" height="4.2"/>
<rect x="985.6" y="450.9" width="4.2" height="4.2"/>
<rect x="938.4" y="458.9" width="4.2" height="4.2"/>
<rect x="944.7" y="458.9" width="4.2" height="4.2"/>
<rect x="944.7" y="466.9" width="4.2" height="4.2"/>
<rect x="948.9" y="466.9" width="4.2" height="4.2"/>
<rect x="961.5" y="466.9" width="4.2" height="4.2"/>
<rect x="967.8" y="466.9" width="4.2" height="4.2"/>
<rect x="984.6" y="466.9" width="4.2" height="4.2"/>
<rect x="862.7" y="475" width="4.2" height="4.2"/>
<rect x="866.9" y="475" width="4.2" height="4.2"/>
<rect x="873.2" y="475" width="4.2" height="4.2"/>
<rect x="887.9" y="475" width="4.2" height="4.2"/>
<rect x="894.2" y="475" width="4.2" height="4.2"/>
<rect x="900.5" y="475" width="4.2" height="4.2"/>
<rect x="909" y="475" width="4.2" height="4.2"/>
<rect x="917.4" y="475" width="4.2" height="4.2"/>
<rect x="925.8" y="475" width="4.2" height="4.2"/>
<rect x="930" y="475" width="4.2" height="4.2"/>
<rect x="936.3" y="475" width="4.2" height="4.2"/>
<rect x="942.6" y="475" width="4.2" height="4.2"/>
<rect x="951" y="475" width="4.2" height="4.2"/>
<rect x="957.3" y="475" width="4.2" height="4.2"/>
<rect x="963.6" y="475" width="4.2" height="4.2"/>
<rect x="969.9" y="475" width="4.2" height="4.2"/>
<rect x="976.2" y="475" width="4.2" height="4.2"/>
<rect x="982.5" y="475" width="4.2" height="4.2"/>
<rect x="845.9" y="483" width="4.2" height="4.2"/>
<rect x="934.2" y="491.1" width="4.2" height="4.2"/>
<rect x="967.8" y="491.1" width="4.2" height="4.2"/>
<rect x="972" y="491.1" width="4.2" height="4.2"/>
<rect x="980.4" y="491.1" width="4.2" height="4.2"/>
<rect x="968.8" y="499.1" width="4.2" height="4.2"/>
<rect x="848" y="507.1" width="4.2" height="4.2"/>
<rect x="852.2" y="507.1" width="4.2" height="4.2"/>
<rect x="858.5" y="507.1" width="4.2" height="4.2"/>
<rect x="883.7" y="507.1" width="4.2" height="4.2"/>
<rect x="900.5" y="507.1" width="4.2" height="4.2"/>
<rect x="925.8" y="507.1" width="4.2" height="4.2"/>
<rect x="934.2" y="507.1" width="4.2" height="4.2"/>
<rect x="942.6" y="507.1" width="4.2" height="4.2"/>
<rect x="951" y="507.1" width="4.2" height="4.2"/>
<rect x="959.4" y="507.1" width="4.2" height="4.2"/>
<rect x="965.7" y="507.1" width="4.2" height="4.2"/>
<rect x="974.1" y="507.1" width="4.2" height="4.2"/>
<rect x="980.4" y="507.1" width="4.2" height="4.2"/>
<rect x="984.6" y="507.1" width="4.2" height="4.2"/>
<rect x="892.1" y="515.2" width="4.2" height="4.2"/>
<rect x="784.8" y="410.7" width="4.2" height="4.2"/>
<rect x="922.6" y="338.3" width="4.2" height="4.2"/>
<rect x="934.2" y="338.3" width="4.2" height="4.2"/>
<rect x="938.4" y="338.3" width="4.2" height="4.2"/>
<rect x="942.6" y="338.3" width="4.2" height="4.2"/>
<rect x="979.3" y="338.3" width="4.2" height="4.2"/>
<rect x="870.1" y="346.3" width="4.2" height="4.2"/>
<rect x="887.9" y="346.3" width="4.2" height="4.2"/>
<rect x="906.8" y="346.3" width="4.2" height="4.2"/>
<rect x="911.1" y="346.3" width="4.2" height="4.2"/>
<rect x="915.7" y="346.3" width="4.2" height="4.2"/>
<rect x="920.4" y="346.3" width="4.2" height="4.2"/>
<rect x="925.1" y="346.3" width="4.2" height="4.2"/>
<rect x="929.7" y="346.3" width="4.2" height="4.2"/>
<rect x="934.4" y="346.3" width="4.2" height="4.2"/>
<rect x="939.1" y="346.3" width="4.2" height="4.2"/>
<rect x="943.7" y="346.3" width="4.2" height="4.2"/>
<rect x="948.4" y="346.3" width="4.2" height="4.2"/>
<rect x="953.1" y="346.3" width="4.2" height="4.2"/>
<rect x="963.6" y="346.3" width="4.2" height="4.2"/>
<rect x="968.8" y="346.3" width="4.2" height="4.2"/>
<rect x="980.4" y="346.3" width="4.2" height="4.2"/>
<rect x="984.6" y="346.3" width="4.2" height="4.2"/>
<rect x="837.5" y="354.4" width="4.2" height="4.2"/>
<rect x="876.4" y="354.4" width="4.2" height="4.2"/>
<rect x="892.1" y="354.4" width="4.2" height="4.2"/>
<rect x="923.7" y="354.4" width="4.2" height="4.2"/>
<rect x="928.2" y="354.4" width="4.2" height="4.2"/>
<rect x="932.7" y="354.4" width="4.2" height="4.2"/>
<rect x="937.2" y="354.4" width="4.2" height="4.2"/>
<rect x="941.7" y="354.4" width="4.2" height="4.2"/>
<rect x="946.2" y="354.4" width="4.2" height="4.2"/>
<rect x="950.7" y="354.4" width="4.2" height="4.2"/>
<rect x="955.2" y="354.4" width="4.2" height="4.2"/>
<rect x="959.7" y="354.4" width="4.2" height="4.2"/>
<rect x="964.2" y="354.4" width="4.2" height="4.2"/>
<rect x="968.7" y="354.4" width="4.2" height="4.2"/>
<rect x="973.2" y="354.4" width="4.2" height="4.2"/>
<rect x="977.7" y="354.4" width="4.2" height="4.2"/>
<rect x="982.2" y="354.4" width="4.2" height="4.2"/>
<rect x="986.7" y="354.4" width="4.2" height="4.2"/>
<rect x="858.5" y="362.4" width="4.2" height="4.2"/>
<rect x="936.3" y="362.4" width="4.2" height="4.2"/>
<rect x="942.6" y="362.4" width="4.2" height="4.2"/>
<rect x="948.9" y="362.4" width="4.2" height="4.2"/>
<rect x="953.1" y="362.4" width="4.2" height="4.2"/>
<rect x="957.3" y="362.4" width="4.2" height="4.2"/>
<rect x="981.4" y="362.4" width="4.2" height="4.2"/>
<rect x="930" y="370.5" width="4.2" height="4.2"/>
<rect x="940.5" y="370.5" width="4.2" height="4.2"/>
<rect x="951" y="370.5" width="4.2" height="4.2"/>
<rect x="955.2" y="370.5" width="4.2" height="4.2"/>
<rect x="909" y="378.5" width="4.2" height="4.2"/>
<rect x="917.4" y="378.5" width="4.2" height="4.2"/>
<rect x="922" y="378.5" width="4.2" height="4.2"/>
<rect x="926.7" y="378.5" width="4.2" height="4.2"/>
<rect x="931.3" y="378.5" width="4.2" height="4.2"/>
<rect x="936" y="378.5" width="4.2" height="4.2"/>
<rect x="940.6" y="378.5" width="4.2" height="4.2"/>
<rect x="945.3" y="378.5" width="4.2" height="4.2"/>
<rect x="949.9" y="378.5" width="4.2" height="4.2"/>
<rect x="954.6" y="378.5" width="4.2" height="4.2"/>
<rect x="959.2" y="378.5" width="4.2" height="4.2"/>
<rect x="963.9" y="378.5" width="4.2" height="4.2"/>
<rect x="968.5" y="378.5" width="4.2" height="4.2"/>
<rect x="973.2" y="378.5" width="4.2" height="4.2"/>
<rect x="977.8" y="378.5" width="4.2" height="4.2"/>
<rect x="982.5" y="378.5" width="4.2" height="4.2"/>
<rect x="839.6" y="386.5" width="4.2" height="4.2"/>
<rect x="919.5" y="386.5" width="4.2" height="4.2"/>
<rect x="925.8" y="386.5" width="4.2" height="4.2"/>
<rect x="930" y="386.5" width="4.2" height="4.2"/>
<rect x="938.4" y="386.5" width="4.2" height="4.2"/>
<rect x="946.8" y="386.5" width="4.2" height="4.2"/>
<rect x="955.2" y="386.5" width="4.2" height="4.2"/>
<rect x="961.5" y="386.5" width="4.2" height="4.2"/>
<rect x="967.8" y="386.5" width="4.2" height="4.2"/>
<rect x="984.6" y="386.5" width="4.2" height="4.2"/>
<rect x="852.2" y="394.6" width="4.2" height="4.2"/>
<rect x="858.5" y="394.6" width="4.2" height="4.2"/>
<rect x="923.7" y="394.6" width="4.2" height="4.2"/>
<rect x="927.9" y="394.6" width="4.2" height="4.2"/>
<rect x="932.1" y="394.6" width="4.2" height="4.2"/>
<rect x="938.4" y="394.6" width="4.2" height="4.2"/>
<rect x="967.8" y="394.6" width="4.2" height="4.2"/>
<rect x="972" y="394.6" width="4.2" height="4.2"/>
<rect x="980.4" y="394.6" width="4.2" height="4.2"/>
<rect x="850.1" y="402.6" width="4.2" height="4.2"/>
<rect x="856.4" y="402.6" width="4.2" height="4.2"/>
<rect x="862.7" y="402.6" width="4.2" height="4.2"/>
<rect x="869" y="402.6" width="4.2" height="4.2"/>
<rect x="900.5" y="402.6" width="4.2" height="4.2"/>
<rect x="930" y="402.6" width="4.2" height="4.2"/>
<rect x="934.2" y="402.6" width="4.2" height="4.2"/>
<rect x="858.5" y="410.7" width="4.2" height="4.2"/>
<rect x="862.7" y="410.7" width="4.2" height="4.2"/>
<rect x="900.5" y="410.7" width="4.2" height="4.2"/>
<rect x="909" y="410.7" width="4.2" height="4.2"/>
<rect x="913.2" y="410.7" width="4.2" height="4.2"/>
<rect x="917.7" y="410.7" width="4.2" height="4.2"/>
<rect x="922.3" y="410.7" width="4.2" height="4.2"/>
<rect x="926.8" y="410.7" width="4.2" height="4.2"/>
<rect x="931.4" y="410.7" width="4.2" height="4.2"/>
<rect x="935.9" y="410.7" width="4.2" height="4.2"/>
<rect x="940.5" y="410.7" width="4.2" height="4.2"/>
<rect x="945" y="410.7" width="4.2" height="4.2"/>
<rect x="949.6" y="410.7" width="4.2" height="4.2"/>
<rect x="954.1" y="410.7" width="4.2" height="4.2"/>
<rect x="958.7" y="410.7" width="4.2" height="4.2"/>
<rect x="963.2" y="410.7" width="4.2" height="4.2"/>
<rect x="967.8" y="410.7" width="4.2" height="4.2"/>
<rect x="980.4" y="410.7" width="4.2" height="4.2"/>
<rect x="984.6" y="410.7" width="4.2" height="4.2"/>
<rect x="919.5" y="418.7" width="4.2" height="4.2"/>
<rect x="934.2" y="418.7" width="4.2" height="4.2"/>
<rect x="942.6" y="418.7" width="4.2" height="4.2"/>
<rect x="946.8" y="418.7" width="4.2" height="4.2"/>
<rect x="921.6" y="426.7" width="4.2" height="4.2"/>
<rect x="942.6" y="426.7" width="4.2" height="4.2"/>
<rect x="965.7" y="426.7" width="4.2" height="4.2"/>
<rect x="753.3" y="314.2" width="4.2" height="4.2"/>
<rect x="742.8" y="330.3" width="4.2" height="4.2"/>
<rect x="845.9" y="241.8" width="4.2" height="4.2"/>
<rect x="875.3" y="241.8" width="4.2" height="4.2"/>
<rect x="913.2" y="241.8" width="4.2" height="4.2"/>
<rect x="919.5" y="241.8" width="4.2" height="4.2"/>
<rect x="960.4" y="241.8" width="4.2" height="4.2"/>
<rect x="972" y="241.8" width="4.2" height="4.2"/>
<rect x="984.6" y="241.8" width="4.2" height="4.2"/>
<rect x="837.9" y="249.9" width="4.2" height="4.2"/>
<rect x="852.2" y="249.9" width="4.2" height="4.2"/>
<rect x="871.1" y="249.9" width="4.2" height="4.2"/>
<rect x="918.4" y="249.9" width="4.2" height="4.2"/>
<rect x="923.7" y="249.9" width="4.2" height="4.2"/>
<rect x="931" y="249.9" width="4.2" height="4.2"/>
<rect x="938.4" y="249.9" width="4.2" height="4.2"/>
<rect x="963.6" y="249.9" width="4.2" height="4.2"/>
<rect x="979.3" y="249.9" width="4.2" height="4.2"/>
<rect x="837.1" y="257.9" width="4.2" height="4.2"/>
<rect x="794.5" y="265.9" width="4.2" height="4.2"/>
<rect x="843.8" y="265.9" width="4.2" height="4.2"/>
<rect x="919" y="265.9" width="4.2" height="4.2"/>
<rect x="926.8" y="265.9" width="4.2" height="4.2"/>
<rect x="932.1" y="265.9" width="4.2" height="4.2"/>
<rect x="937.3" y="265.9" width="4.2" height="4.2"/>
<rect x="947.8" y="265.9" width="4.2" height="4.2"/>
<rect x="954.1" y="265.9" width="4.2" height="4.2"/>
<rect x="968.8" y="265.9" width="4.2" height="4.2"/>
<rect x="974.1" y="265.9" width="4.2" height="4.2"/>
<rect x="871.1" y="274" width="4.2" height="4.2"/>
<rect x="881.6" y="274" width="4.2" height="4.2"/>
<rect x="886.9" y="274" width="4.2" height="4.2"/>
<rect x="896.8" y="274" width="4.2" height="4.2"/>
<rect x="931" y="274" width="4.2" height="4.2"/>
<rect x="960.4" y="274" width="4.2" height="4.2"/>
<rect x="974.1" y="274" width="4.2" height="4.2"/>
<rect x="821.1" y="282" width="4.2" height="4.2"/>
<rect x="864.8" y="282" width="4.2" height="4.2"/>
<rect x="901.6" y="282" width="4.2" height="4.2"/>
<rect x="910.6" y="282" width="4.2" height="4.2"/>
<rect x="926.8" y="282" width="4.2" height="4.2"/>
<rect x="931" y="282" width="4.2" height="4.2"/>
<rect x="944.7" y="282" width="4.2" height="4.2"/>
<rect x="981.4" y="282" width="4.2" height="4.2"/>
<rect x="805" y="290.1" width="4.2" height="4.2"/>
<rect x="830.8" y="290.1" width="4.2" height="4.2"/>
<rect x="863.8" y="290.1" width="4.2" height="4.2"/>
<rect x="881.6" y="290.1" width="4.2" height="4.2"/>
<rect x="897.4" y="290.1" width="4.2" height="4.2"/>
<rect x="914.2" y="290.1" width="4.2" height="4.2"/>
<rect x="919.5" y="290.1" width="4.2" height="4.2"/>
<rect x="931" y="290.1" width="4.2" height="4.2"/>
<rect x="947.8" y="290.1" width="4.2" height="4.2"/>
<rect x="954.1" y="290.1" width="4.2" height="4.2"/>
<rect x="966.7" y="290.1" width="4.2" height="4.2"/>
<rect x="974.1" y="290.1" width="4.2" height="4.2"/>
<rect x="984.6" y="290.1" width="4.2" height="4.2"/>
<rect x="837.9" y="298.1" width="4.2" height="4.2"/>
<rect x="886.9" y="298.1" width="4.2" height="4.2"/>
<rect x="901.6" y="298.1" width="4.2" height="4.2"/>
<rect x="911.1" y="298.1" width="4.2" height="4.2"/>
<rect x="934.2" y="298.1" width="4.2" height="4.2"/>
<rect x="938.4" y="298.1" width="4.2" height="4.2"/>
<rect x="951" y="298.1" width="4.2" height="4.2"/>
<rect x="955.2" y="298.1" width="4.2" height="4.2"/>
<rect x="979.3" y="298.1" width="4.2" height="4.2"/>
<rect x="915.3" y="306.1" width="4.2" height="4.2"/>
<rect x="934.2" y="306.1" width="4.2" height="4.2"/>
<rect x="938.4" y="306.1" width="4.2" height="4.2"/>
<rect x="942.6" y="306.1" width="4.2" height="4.2"/>
<rect x="951" y="306.1" width="4.2" height="4.2"/>
<rect x="955.2" y="306.1" width="4.2" height="4.2"/>
<rect x="966.7" y="306.1" width="4.2" height="4.2"/>
<rect x="979.3" y="306.1" width="4.2" height="4.2"/>
<rect x="837.5" y="314.2" width="4.2" height="4.2"/>
<rect x="875.3" y="314.2" width="4.2" height="4.2"/>
<rect x="901.6" y="314.2" width="4.2" height="4.2"/>
<rect x="922.6" y="314.2" width="4.2" height="4.2"/>
<rect x="927.9" y="314.2" width="4.2" height="4.2"/>
<rect x="934.2" y="314.2" width="4.2" height="4.2"/>
<rect x="939.4" y="314.2" width="4.2" height="4.2"/>
<rect x="944.7" y="314.2" width="4.2" height="4.2"/>
<rect x="948.9" y="314.2" width="4.2" height="4.2"/>
<rect x="954.1" y="314.2" width="4.2" height="4.2"/>
<rect x="960.4" y="314.2" width="4.2" height="4.2"/>
<rect x="981.4" y="314.2" width="4.2" height="4.2"/>
<rect x="897.4" y="322.2" width="4.2" height="4.2"/>
<rect x="941.5" y="322.2" width="4.2" height="4.2"/>
<rect x="954.1" y="322.2" width="4.2" height="4.2"/>
<rect x="963.6" y="322.2" width="4.2" height="4.2"/>
<rect x="979.3" y="322.2" width="4.2" height="4.2"/>
<rect x="983.5" y="322.2" width="4.2" height="4.2"/>
<rect x="803.9" y="330.3" width="4.2" height="4.2"/>
<rect x="870.1" y="330.3" width="4.2" height="4.2"/>
<rect x="886.9" y="330.3" width="4.2" height="4.2"/>
<rect x="897.4" y="330.3" width="4.2" height="4.2"/>
<rect x="906.8" y="330.3" width="4.2" height="4.2"/>
<rect x="922.6" y="330.3" width="4.2" height="4.2"/>
<rect x="927.9" y="330.3" width="4.2" height="4.2"/>
<rect x="932.6" y="330.3" width="4.2" height="4.2"/>
<rect x="937.3" y="330.3" width="4.2" height="4.2"/>
<rect x="942" y="330.3" width="4.2" height="4.2"/>
<rect x="946.8" y="330.3" width="4.2" height="4.2"/>
<rect x="957.3" y="330.3" width="4.2" height="4.2"/>
<rect x="963.6" y="330.3" width="4.2" height="4.2"/>
<rect x="979.3" y="330.3" width="4.2" height="4.2"/>
<rect x="984.6" y="330.3" width="4.2" height="4.2"/>
<rect x="772.5" y="89.1" width="4.2" height="4.2"/>
<rect x="851.3" y="105.1" width="4.2" height="4.2"/>
<rect x="897" y="121.2" width="4.2" height="4.2"/>
<rect x="765.7" y="145.3" width="4.2" height="4.2"/>
<rect x="851.9" y="145.3" width="4.2" height="4.2"/>
<rect x="838" y="153.4" width="4.2" height="4.2"/>
<rect x="845.4" y="153.4" width="4.2" height="4.2"/>
<rect x="857.5" y="153.4" width="4.2" height="4.2"/>
<rect x="794.4" y="161.4" width="4.2" height="4.2"/>
<rect x="887.3" y="169.5" width="4.2" height="4.2"/>
<rect x="772.5" y="177.5" width="4.2" height="4.2"/>
<rect x="812.9" y="177.5" width="4.2" height="4.2"/>
<rect x="783.7" y="185.5" width="4.2" height="4.2"/>
<rect x="749.5" y="193.6" width="4.2" height="4.2"/>
<rect x="813.8" y="193.6" width="4.2" height="4.2"/>
<rect x="829.2" y="193.6" width="4.2" height="4.2"/>
<rect x="914.7" y="193.6" width="4.2" height="4.2"/>
<rect x="956.9" y="193.6" width="4.2" height="4.2"/>
<rect x="886.1" y="201.6" width="4.2" height="4.2"/>
<rect x="892" y="201.6" width="4.2" height="4.2"/>
<rect x="953.9" y="201.6" width="4.2" height="4.2"/>
<rect x="851.3" y="209.7" width="4.2" height="4.2"/>
<rect x="876.4" y="209.7" width="4.2" height="4.2"/>
<rect x="906.5" y="209.7" width="4.2" height="4.2"/>
<rect x="930.9" y="209.7" width="4.2" height="4.2"/>
<rect x="829.2" y="217.7" width="4.2" height="4.2"/>
<rect x="881.4" y="217.7" width="4.2" height="4.2"/>
<rect x="965.7" y="217.7" width="4.2" height="4.2"/>
<rect x="749.5" y="225.7" width="4.2" height="4.2"/>
<rect x="837.1" y="225.7" width="4.2" height="4.2"/>
<rect x="901.4" y="225.7" width="4.2" height="4.2"/>
<rect x="918.5" y="225.7" width="4.2" height="4.2"/>
<rect x="749.5" y="233.8" width="4.2" height="4.2"/>
<rect x="761.3" y="233.8" width="4.2" height="4.2"/>
<rect x="897" y="233.8" width="4.2" height="4.2"/>
<rect x="906.7" y="233.8" width="4.2" height="4.2"/>
<rect x="926.5" y="233.8" width="4.2" height="4.2"/>
</g>
<g fill="#c2e7f8" stroke="#4a90c0" stroke-width="1">
<circle cx="672" cy="533.4" r="2.1"/>
<circle cx="736.1" cy="533.4" r="2.1"/>
<circle cx="743" cy="533.4" r="2.1"/>
<circle cx="749.7" cy="533.4" r="2.1"/>
<circle cx="760.7" cy="533.4" r="2.1"/>
<circle cx="771.2" cy="533.4" r="2.1"/>
<circle cx="774.3" cy="533.4" r="2.1"/>
<circle cx="781.7" cy="533.4" r="2.1"/>
<circle cx="784.8" cy="533.4" r="2.1"/>
<circle cx="788" cy="533.4" r="2.1"/>
<circle cx="782.7" cy="549.4" r="2.1"/>
<circle cx="785.9" cy="549.4" r="2.1"/>
<circle cx="773.3" cy="557.5" r="2.1"/>
<circle cx="728.7" cy="565.5" r="2.1"/>
<circle cx="738.2" cy="565.5" r="2.1"/>
<circle cx="761.7" cy="565.5" r="2.1"/>
<circle cx="763.8" cy="565.5" r="2.1"/>
<circle cx="773.3" cy="565.5" r="2.1"/>
<circle cx="775.4" cy="565.5" r="2.1"/>
<circle cx="781.7" cy="565.5" r="2.1"/>
<circle cx="743.4" cy="581.6" r="2.1"/>
<circle cx="780" cy="581.6" r="2.1"/>
<circle cx="754.4" cy="589.6" r="2.1"/>
<circle cx="784.8" cy="589.6" r="2.1"/>
<circle cx="786.9" cy="589.6" r="2.1"/>
<circle cx="749.7" cy="605.7" r="2.1"/>
<circle cx="762.4" cy="605.7" r="2.1"/>
<circle cx="780" cy="605.7" r="2.1"/>
<circle cx="790.1" cy="605.7" r="2.1"/>
<circle cx="749.7" cy="613.8" r="2.1"/>
<circle cx="760.7" cy="613.8" r="2.1"/>
<circle cx="672" cy="621.8" r="2.1"/>
<circle cx="691.3" cy="621.8" r="2.1"/>
<circle cx="693.4" cy="621.8" r="2.1"/>
<circle cx="718.7" cy="621.8" r="2.1"/>
<circle cx="732.3" cy="621.8" r="2.1"/>
<circle cx="735.5" cy="621.8" r="2.1"/>
<circle cx="737.6" cy="621.8" r="2.1"/>
<circle cx="748.1" cy="621.8" r="2.1"/>
<circle cx="750.2" cy="621.8" r="2.1"/>
<circle cx="760.7" cy="621.8" r="2.1"/>
<circle cx="762.8" cy="621.8" r="2.1"/>
<circle cx="767" cy="621.8" r="2.1"/>
<circle cx="771.2" cy="621.8" r="2.1"/>
<circle cx="774.3" cy="621.8" r="2.1"/>
<circle cx="778.5" cy="621.8" r="2.1"/>
<circle cx="783.8" cy="621.8" r="2.1"/>
<circle cx="794.3" cy="533.4" r="2.1"/>
<circle cx="798.9" cy="533.4" r="2.1"/>
<circle cx="803.5" cy="533.4" r="2.1"/>
<circle cx="808.2" cy="533.4" r="2.1"/>
<circle cx="812.8" cy="533.4" r="2.1"/>
<circle cx="817.4" cy="533.4" r="2.1"/>
<circle cx="822.1" cy="533.4" r="2.1"/>
<circle cx="826.7" cy="533.4" r="2.1"/>
<circle cx="831.3" cy="533.4" r="2.1"/>
<circle cx="835.9" cy="533.4" r="2.1"/>
<circle cx="845.2" cy="533.4" r="2.1"/>
<circle cx="849.8" cy="533.4" r="2.1"/>
<circle cx="854.5" cy="533.4" r="2.1"/>
<circle cx="859.1" cy="533.4" r="2.1"/>
<circle cx="863.7" cy="533.4" r="2.1"/>
<circle cx="868.4" cy="533.4" r="2.1"/>
<circle cx="873" cy="533.4" r="2.1"/>
<circle cx="877.6" cy="533.4" r="2.1"/>
<circle cx="882.3" cy="533.4" r="2.1"/>
<circle cx="886.9" cy="533.4" r="2.1"/>
<circle cx="891.5" cy="533.4" r="2.1"/>
<circle cx="896.2" cy="533.4" r="2.1"/>
<circle cx="900.8" cy="533.4" r="2.1"/>
<circle cx="905.4" cy="533.4" r="2.1"/>
<circle cx="910" cy="533.4" r="2.1"/>
<circle cx="914.7" cy="533.4" r="2.1"/>
<circle cx="919.3" cy="533.4" r="2.1"/>
<circle cx="923.9" cy="533.4" r="2.1"/>
<circle cx="928.6" cy="533.4" r="2.1"/>
<circle cx="933.2" cy="533.4" r="2.1"/>
<circle cx="937.8" cy="533.4" r="2.1"/>
<circle cx="942.5" cy="533.4" r="2.1"/>
<circle cx="947.1" cy="533.4" r="2.1"/>
<circle cx="951.7" cy="533.4" r="2.1"/>
<circle cx="956.4" cy="533.4" r="2.1"/>
<circle cx="961" cy="533.4" r="2.1"/>
<circle cx="965.6" cy="533.4" r="2.1"/>
<circle cx="970.3" cy="533.4" r="2.1"/>
<circle cx="979.5" cy="533.4" r="2.1"/>
<circle cx="984.2" cy="533.4" r="2.1"/>
<circle cx="988.8" cy="533.4" r="2.1"/>
<circle cx="838.6" cy="541.4" r="2.1"/>
<circle cx="841.7" cy="541.4" r="2.1"/>
<circle cx="860.6" cy="541.4" r="2.1"/>
<circle cx="873.2" cy="541.4" r="2.1"/>
<circle cx="877.4" cy="541.4" r="2.1"/>
<circle cx="885.8" cy="541.4" r="2.1"/>
<circle cx="894.2" cy="541.4" r="2.1"/>
<circle cx="915.3" cy="541.4" r="2.1"/>
<circle cx="923.7" cy="541.4" r="2.1"/>
<circle cx="932.1" cy="541.4" r="2.1"/>
<circle cx="940.5" cy="541.4" r="2.1"/>
<circle cx="946.8" cy="541.4" r="2.1"/>
<circle cx="953.1" cy="541.4" r="2.1"/>
<circle cx="963.6" cy="541.4" r="2.1"/>
<circle cx="969.9" cy="541.4" r="2.1"/>
<circle cx="978.3" cy="541.4" r="2.1"/>
<circle cx="799.7" cy="549.4" r="2.1"/>
<circle cx="806" cy="549.4" r="2.1"/>
<circle cx="832.3" cy="549.4" r="2.1"/>
<circle cx="843.8" cy="549.4" r="2.1"/>
<circle cx="848" cy="549.4" r="2.1"/>
<circle cx="852.2" cy="549.4" r="2.1"/>
<circle cx="866.9" cy="549.4" r="2.1"/>
<circle cx="873.2" cy="549.4" r="2.1"/>
<circle cx="877.4" cy="549.4" r="2.1"/>
<circle cx="882.5" cy="549.4" r="2.1"/>
<circle cx="887.5" cy="549.4" r="2.1"/>
<circle cx="892.6" cy="549.4" r="2.1"/>
<circle cx="897.6" cy="549.4" r="2.1"/>
<circle cx="902.6" cy="549.4" r="2.1"/>
<circle cx="911.1" cy="549.4" r="2.1"/>
<circle cx="919.5" cy="549.4" r="2.1"/>
<circle cx="927.9" cy="549.4" r="2.1"/>
<circle cx="936.3" cy="549.4" r="2.1"/>
<circle cx="951" cy="549.4" r="2.1"/>
<circle cx="957.3" cy="549.4" r="2.1"/>
<circle cx="969.9" cy="549.4" r="2.1"/>
<circle cx="978.3" cy="549.4" r="2.1"/>
<circle cx="986.7" cy="549.4" r="2.1"/>
<circle cx="822.8" cy="557.5" r="2.1"/>
<circle cx="866.9" cy="557.5" r="2.1"/>
<circle cx="873.2" cy="557.5" r="2.1"/>
<circle cx="890" cy="557.5" r="2.1"/>
<circle cx="894.2" cy="557.5" r="2.1"/>
<circle cx="906.8" cy="557.5" r="2.1"/>
<circle cx="915.3" cy="557.5" r="2.1"/>
<circle cx="923.7" cy="557.5" r="2.1"/>
<circle cx="932.1" cy="557.5" r="2.1"/>
<circle cx="948.9" cy="557.5" r="2.1"/>
<circle cx="957.3" cy="557.5" r="2.1"/>
<circle cx="967.8" cy="557.5" r="2.1"/>
<circle cx="978.3" cy="557.5" r="2.1"/>
<circle cx="791.3" cy="565.5" r="2.1"/>
<circle cx="796" cy="565.5" r="2.1"/>
<circle cx="800.6" cy="565.5" r="2.1"/>
<circle cx="805.3" cy="565.5" r="2.1"/>
<circle cx="809.9" cy="565.5" r="2.1"/>
<circle cx="814.6" cy="565.5" r="2.1"/>
<circle cx="819.2" cy="565.5" r="2.1"/>
<circle cx="823.9" cy="565.5" r="2.1"/>
<circle cx="828.5" cy="565.5" r="2.1"/>
<circle cx="833.2" cy="565.5" r="2.1"/>
<circle cx="837.8" cy="565.5" r="2.1"/>
<circle cx="842.5" cy="565.5" r="2.1"/>
<circle cx="847.1" cy="565.5" r="2.1"/>
<circle cx="851.8" cy="565.5" r="2.1"/>
<circle cx="856.4" cy="565.5" r="2.1"/>
<circle cx="861.1" cy="565.5" r="2.1"/>
<circle cx="865.7" cy="565.5" r="2.1"/>
<circle cx="870.4" cy="565.5" r="2.1"/>
<circle cx="875" cy="565.5" r="2.1"/>
<circle cx="879.7" cy="565.5" r="2.1"/>
<circle cx="884.3" cy="565.5" r="2.1"/>
<circle cx="889" cy="565.5" r="2.1"/>
<circle cx="893.6" cy="565.5" r="2.1"/>
<circle cx="898.3" cy="565.5" r="2.1"/>
<circle cx="902.9" cy="565.5" r="2.1"/>
<circle cx="907.6" cy="565.5" r="2.1"/>
<circle cx="912.3" cy="565.5" r="2.1"/>
<circle cx="916.9" cy="565.5" r="2.1"/>
<circle cx="921.6" cy="565.5" r="2.1"/>
<circle cx="932.1" cy="565.5" r="2.1"/>
<circle cx="936.8" cy="565.5" r="2.1"/>
<circle cx="941.5" cy="565.5" r="2.1"/>
<circle cx="946.2" cy="565.5" r="2.1"/>
<circle cx="951" cy="565.5" r="2.1"/>
<circle cx="955.7" cy="565.5" r="2.1"/>
<circle cx="960.4" cy="565.5" r="2.1"/>
<circle cx="965.1" cy="565.5" r="2.1"/>
<circle cx="969.9" cy="565.5" r="2.1"/>
<circle cx="974.6" cy="565.5" r="2.1"/>
<circle cx="979.3" cy="565.5" r="2.1"/>
<circle cx="984.1" cy="565.5" r="2.1"/>
<circle cx="988.8" cy="565.5" r="2.1"/>
<circle cx="852.2" cy="573.6" r="2.1"/>
<circle cx="864.8" cy="573.6" r="2.1"/>
<circle cx="869" cy="573.6" r="2.1"/>
<circle cx="891.1" cy="573.6" r="2.1"/>
<circle cx="911.1" cy="573.6" r="2.1"/>
<circle cx="919.5" cy="573.6" r="2.1"/>
<circle cx="932.1" cy="573.6" r="2.1"/>
<circle cx="944.7" cy="573.6" r="2.1"/>
<circle cx="953.1" cy="573.6" r="2.1"/>
<circle cx="961.5" cy="573.6" r="2.1"/>
<circle cx="967.8" cy="573.6" r="2.1"/>
<circle cx="831.2" cy="581.6" r="2.1"/>
<circle cx="845.9" cy="581.6" r="2.1"/>
<circle cx="860.6" cy="581.6" r="2.1"/>
<circle cx="864.8" cy="581.6" r="2.1"/>
<circle cx="871.1" cy="581.6" r="2.1"/>
<circle cx="876.4" cy="581.6" r="2.1"/>
<circle cx="881.6" cy="581.6" r="2.1"/>
<circle cx="890" cy="581.6" r="2.1"/>
<circle cx="894.8" cy="581.6" r="2.1"/>
<circle cx="899.5" cy="581.6" r="2.1"/>
<circle cx="904.2" cy="581.6" r="2.1"/>
<circle cx="908.9" cy="581.6" r="2.1"/>
<circle cx="913.7" cy="581.6" r="2.1"/>
<circle cx="918.4" cy="581.6" r="2.1"/>
<circle cx="923.1" cy="581.6" r="2.1"/>
<circle cx="927.9" cy="581.6" r="2.1"/>
<circle cx="936.3" cy="581.6" r="2.1"/>
<circle cx="940.5" cy="581.6" r="2.1"/>
<circle cx="951" cy="581.6" r="2.1"/>
<circle cx="959.4" cy="581.6" r="2.1"/>
<circle cx="967.8" cy="581.6" r="2.1"/>
<circle cx="974.1" cy="581.6" r="2.1"/>
<circle cx="980.4" cy="581.6" r="2.1"/>
<circle cx="986.7" cy="581.6" r="2.1"/>
<circle cx="837.5" cy="589.6" r="2.1"/>
<circle cx="841.7" cy="589.6" r="2.1"/>
<circle cx="864.8" cy="589.6" r="2.1"/>
<circle cx="881.6" cy="589.6" r="2.1"/>
<circle cx="894.2" cy="589.6" r="2.1"/>
<circle cx="911.1" cy="589.6" r="2.1"/>
<circle cx="913.2" cy="589.6" r="2.1"/>
<circle cx="944.7" cy="589.6" r="2.1"/>
<circle cx="951" cy="589.6" r="2.1"/>
<circle cx="957.3" cy="589.6" r="2.1"/>
<circle cx="959.4" cy="589.6" r="2.1"/>
<circle cx="967.8" cy="589.6" r="2.1"/>
<circle cx="976.2" cy="589.6" r="2.1"/>
<circle cx="981.4" cy="589.6" r="2.1"/>
<circle cx="986.7" cy="589.6" r="2.1"/>
<circle cx="826" cy="597.7" r="2.1"/>
<circle cx="858.5" cy="597.7" r="2.1"/>
<circle cx="908.9" cy="597.7" r="2.1"/>
<circle cx="936.3" cy="597.7" r="2.1"/>
<circle cx="794.5" cy="605.7" r="2.1"/>
<circle cx="805" cy="605.7" r="2.1"/>
<circle cx="820.7" cy="605.7" r="2.1"/>
<circle cx="829.1" cy="605.7" r="2.1"/>
<circle cx="833.8" cy="605.7" r="2.1"/>
<circle cx="838.4" cy="605.7" r="2.1"/>
<circle cx="843" cy="605.7" r="2.1"/>
<circle cx="847.7" cy="605.7" r="2.1"/>
<circle cx="852.3" cy="605.7" r="2.1"/>
<circle cx="856.9" cy="605.7" r="2.1"/>
<circle cx="861.6" cy="605.7" r="2.1"/>
<circle cx="866.2" cy="605.7" r="2.1"/>
<circle cx="870.8" cy="605.7" r="2.1"/>
<circle cx="875.5" cy="605.7" r="2.1"/>
<circle cx="880.1" cy="605.7" r="2.1"/>
<circle cx="884.7" cy="605.7" r="2.1"/>
<circle cx="889.4" cy="605.7" r="2.1"/>
<circle cx="894" cy="605.7" r="2.1"/>
<circle cx="898.6" cy="605.7" r="2.1"/>
<circle cx="903.3" cy="605.7" r="2.1"/>
<circle cx="907.9" cy="605.7" r="2.1"/>
<circle cx="912.5" cy="605.7" r="2.1"/>
<circle cx="917.2" cy="605.7" r="2.1"/>
<circle cx="921.8" cy="605.7" r="2.1"/>
<circle cx="935.7" cy="605.7" r="2.1"/>
<circle cx="945" cy="605.7" r="2.1"/>
<circle cx="949.6" cy="605.7" r="2.1"/>
<circle cx="954.2" cy="605.7" r="2.1"/>
<circle cx="958.9" cy="605.7" r="2.1"/>
<circle cx="963.5" cy="605.7" r="2.1"/>
<circle cx="972.8" cy="605.7" r="2.1"/>
<circle cx="977.4" cy="605.7" r="2.1"/>
<circle cx="982" cy="605.7" r="2.1"/>
<circle cx="986.7" cy="605.7" r="2.1"/>
<circle cx="822.8" cy="613.8" r="2.1"/>
<circle cx="873.2" cy="613.8" r="2.1"/>
<circle cx="877.4" cy="613.8" r="2.1"/>
<circle cx="883.7" cy="613.8" r="2.1"/>
<circle cx="904.7" cy="613.8" r="2.1"/>
<circle cx="917.4" cy="613.8" r="2.1"/>
<circle cx="923.7" cy="613.8" r="2.1"/>
<circle cx="932.1" cy="613.8" r="2.1"/>
<circle cx="948.9" cy="613.8" r="2.1"/>
<circle cx="959.4" cy="613.8" r="2.1"/>
<circle cx="967.8" cy="613.8" r="2.1"/>
<circle cx="976.2" cy="613.8" r="2.1"/>
<circle cx="986.7" cy="613.8" r="2.1"/>
<circle cx="794.3" cy="621.8" r="2.1"/>
<circle cx="798.9" cy="621.8" r="2.1"/>
<circle cx="803.5" cy="621.8" r="2.1"/>
<circle cx="812.8" cy="621.8" r="2.1"/>
<circle cx="817.4" cy="621.8" r="2.1"/>
<circle cx="822.1" cy="621.8" r="2.1"/>
<circle cx="831.3" cy="621.8" r="2.1"/>
<circle cx="835.9" cy="621.8" r="2.1"/>
<circle cx="845.2" cy="621.8" r="2.1"/>
<circle cx="849.8" cy="621.8" r="2.1"/>
<circle cx="863.7" cy="621.8" r="2.1"/>
<circle cx="873" cy="621.8" r="2.1"/>
<circle cx="877.6" cy="621.8" r="2.1"/>
<circle cx="882.3" cy="621.8" r="2.1"/>
<circle cx="891.5" cy="621.8" r="2.1"/>
<circle cx="905.4" cy="621.8" r="2.1"/>
<circle cx="910" cy="621.8" r="2.1"/>
<circle cx="919.3" cy="621.8" r="2.1"/>
<circle cx="923.9" cy="621.8" r="2.1"/>
<circle cx="933.2" cy="621.8" r="2.1"/>
<circle cx="947.1" cy="621.8" r="2.1"/>
<circle cx="956.4" cy="621.8" r="2.1"/>
<circle cx="961" cy="621.8" r="2.1"/>
<circle cx="974.9" cy="621.8" r="2.1"/>
<circle cx="988.8" cy="621.8" r="2.1"/>
<circle cx="629.8" cy="436.9" r="2.1"/>
<circle cx="665.1" cy="436.9" r="2.1"/>
<circle cx="672.4" cy="436.9" r="2.1"/>
<circle cx="694.1" cy="436.9" r="2.1"/>
<circle cx="717" cy="436.9" r="2.1"/>
<circle cx="731.3" cy="436.9" r="2.1"/>
<circle cx="737.6" cy="436.9" r="2.1"/>
<circle cx="762.8" cy="436.9" r="2.1"/>
<circle cx="769.1" cy="436.9" r="2.1"/>
<circle cx="775.4" cy="436.9" r="2.1"/>
<circle cx="781.7" cy="436.9" r="2.1"/>
<circle cx="788" cy="436.9" r="2.1"/>
<circle cx="694.1" cy="444.9" r="2.1"/>
<circle cx="771.2" cy="444.9" r="2.1"/>
<circle cx="779.6" cy="444.9" r="2.1"/>
<circle cx="786.9" cy="444.9" r="2.1"/>
<circle cx="580" cy="453" r="2.1"/>
<circle cx="663" cy="453" r="2.1"/>
<circle cx="694.1" cy="453" r="2.1"/>
<circle cx="703.9" cy="453" r="2.1"/>
<circle cx="727.1" cy="453" r="2.1"/>
<circle cx="737.6" cy="453" r="2.1"/>
<circle cx="742.3" cy="453" r="2.1"/>
<circle cx="747.1" cy="453" r="2.1"/>
<circle cx="751.9" cy="453" r="2.1"/>
<circle cx="756.7" cy="453" r="2.1"/>
<circle cx="761.4" cy="453" r="2.1"/>
<circle cx="766.2" cy="453" r="2.1"/>
<circle cx="771" cy="453" r="2.1"/>
<circle cx="775.8" cy="453" r="2.1"/>
<circle cx="780.5" cy="453" r="2.1"/>
<circle cx="785.3" cy="453" r="2.1"/>
<circle cx="790.1" cy="453" r="2.1"/>
<circle cx="672" cy="461" r="2.1"/>
<circle cx="749.7" cy="461" r="2.1"/>
<circle cx="760.7" cy="461" r="2.1"/>
<circle cx="764.5" cy="461" r="2.1"/>
<circle cx="777.5" cy="461" r="2.1"/>
<circle cx="781.7" cy="461" r="2.1"/>
<circle cx="788" cy="461" r="2.1"/>
<circle cx="735.5" cy="469" r="2.1"/>
<circle cx="738.6" cy="469" r="2.1"/>
<circle cx="741.8" cy="469" r="2.1"/>
<circle cx="747" cy="469" r="2.1"/>
<circle cx="769.1" cy="469" r="2.1"/>
<circle cx="773.3" cy="469" r="2.1"/>
<circle cx="781.7" cy="469" r="2.1"/>
<circle cx="693.4" cy="477.1" r="2.1"/>
<circle cx="698.7" cy="477.1" r="2.1"/>
<circle cx="706.1" cy="477.1" r="2.1"/>
<circle cx="708.2" cy="477.1" r="2.1"/>
<circle cx="714.5" cy="477.1" r="2.1"/>
<circle cx="717.6" cy="477.1" r="2.1"/>
<circle cx="721.8" cy="477.1" r="2.1"/>
<circle cx="731.3" cy="477.1" r="2.1"/>
<circle cx="733.4" cy="477.1" r="2.1"/>
<circle cx="743.9" cy="477.1" r="2.1"/>
<circle cx="748.1" cy="477.1" r="2.1"/>
<circle cx="752.3" cy="477.1" r="2.1"/>
<circle cx="756.5" cy="477.1" r="2.1"/>
<circle cx="769.1" cy="477.1" r="2.1"/>
<circle cx="781.7" cy="477.1" r="2.1"/>
<circle cx="788" cy="477.1" r="2.1"/>
<circle cx="746.6" cy="485.1" r="2.1"/>
<circle cx="782.7" cy="485.1" r="2.1"/>
<circle cx="752.3" cy="493.2" r="2.1"/>
<circle cx="760.7" cy="493.2" r="2.1"/>
<circle cx="764.9" cy="493.2" r="2.1"/>
<circle cx="773.3" cy="493.2" r="2.1"/>
<circle cx="779.6" cy="493.2" r="2.1"/>
<circle cx="675" cy="509.2" r="2.1"/>
<circle cx="727.1" cy="509.2" r="2.1"/>
<circle cx="738" cy="509.2" r="2.1"/>
<circle cx="747" cy="509.2" r="2.1"/>
<circle cx="753.3" cy="509.2" r="2.1"/>
<circle cx="757.9" cy="509.2" r="2.1"/>
<circle cx="762.5" cy="509.2" r="2.1"/>
<circle cx="767.1" cy="509.2" r="2.1"/>
<circle cx="771.7" cy="509.2" r="2.1"/>
<circle cx="776.3" cy="509.2" r="2.1"/>
<circle cx="780.9" cy="509.2" r="2.1"/>
<circle cx="785.5" cy="509.2" r="2.1"/>
<circle cx="790.1" cy="509.2" r="2.1"/>
<circle cx="757.5" cy="517.3" r="2.1"/>
<circle cx="760.7" cy="517.3" r="2.1"/>
<circle cx="763.8" cy="517.3" r="2.1"/>
<circle cx="773.3" cy="517.3" r="2.1"/>
<circle cx="775.4" cy="517.3" r="2.1"/>
<circle cx="784.8" cy="525.3" r="2.1"/>
<circle cx="785" cy="436.9" r="2.1"/>
<circle cx="794.6" cy="436.9" r="2.1"/>
<circle cx="799.4" cy="436.9" r="2.1"/>
<circle cx="804.2" cy="436.9" r="2.1"/>
<circle cx="809" cy="436.9" r="2.1"/>
<circle cx="813.8" cy="436.9" r="2.1"/>
<circle cx="818.6" cy="436.9" r="2.1"/>
<circle cx="823.9" cy="436.9" r="2.1"/>
<circle cx="828.4" cy="436.9" r="2.1"/>
<circle cx="832.9" cy="436.9" r="2.1"/>
<circle cx="837.4" cy="436.9" r="2.1"/>
<circle cx="841.9" cy="436.9" r="2.1"/>
<circle cx="846.4" cy="436.9" r="2.1"/>
<circle cx="851" cy="436.9" r="2.1"/>
<circle cx="855.5" cy="436.9" r="2.1"/>
<circle cx="860" cy="436.9" r="2.1"/>
<circle cx="864.5" cy="436.9" r="2.1"/>
<circle cx="869" cy="436.9" r="2.1"/>
<circle cx="884.7" cy="436.9" r="2.1"/>
<circle cx="889.2" cy="436.9" r="2.1"/>
<circle cx="893.8" cy="436.9" r="2.1"/>
<circle cx="916.4" cy="436.9" r="2.1"/>
<circle cx="930" cy="436.9" r="2.1"/>
<circle cx="969.4" cy="436.9" r="2.1"/>
<circle cx="974.1" cy="436.9" r="2.1"/>
<circle cx="792.4" cy="444.9" r="2.1"/>
<circle cx="798.7" cy="444.9" r="2.1"/>
<circle cx="805" cy="444.9" r="2.1"/>
<circle cx="810.2" cy="444.9" r="2.1"/>
<circle cx="817.6" cy="444.9" r="2.1"/>
<circle cx="824.9" cy="444.9" r="2.1"/>
<circle cx="848" cy="444.9" r="2.1"/>
<circle cx="862.7" cy="444.9" r="2.1"/>
<circle cx="866.9" cy="444.9" r="2.1"/>
<circle cx="871.1" cy="444.9" r="2.1"/>
<circle cx="875.3" cy="444.9" r="2.1"/>
<circle cx="885.8" cy="444.9" r="2.1"/>
<circle cx="898.4" cy="444.9" r="2.1"/>
<circle cx="902.6" cy="444.9" r="2.1"/>
<circle cx="915.3" cy="444.9" r="2.1"/>
<circle cx="930" cy="444.9" r="2.1"/>
<circle cx="982.5" cy="444.9" r="2.1"/>
<circle cx="794.1" cy="453" r="2.1"/>
<circle cx="798.7" cy="453" r="2.1"/>
<circle cx="803.3" cy="453" r="2.1"/>
<circle cx="807.8" cy="453" r="2.1"/>
<circle cx="812.4" cy="453" r="2.1"/>
<circle cx="817" cy="453" r="2.1"/>
<circle cx="821.5" cy="453" r="2.1"/>
<circle cx="826.1" cy="453" r="2.1"/>
<circle cx="830.7" cy="453" r="2.1"/>
<circle cx="835.2" cy="453" r="2.1"/>
<circle cx="839.8" cy="453" r="2.1"/>
<circle cx="844.4" cy="453" r="2.1"/>
<circle cx="848.9" cy="453" r="2.1"/>
<circle cx="853.5" cy="453" r="2.1"/>
<circle cx="858.1" cy="453" r="2.1"/>
<circle cx="862.6" cy="453" r="2.1"/>
<circle cx="867.2" cy="453" r="2.1"/>
<circle cx="871.8" cy="453" r="2.1"/>
<circle cx="876.3" cy="453" r="2.1"/>
<circle cx="880.9" cy="453" r="2.1"/>
<circle cx="885.5" cy="453" r="2.1"/>
<circle cx="890" cy="453" r="2.1"/>
<circle cx="960.6" cy="453" r="2.1"/>
<circle cx="979.4" cy="453" r="2.1"/>
<circle cx="793.4" cy="461" r="2.1"/>
<circle cx="801.8" cy="461" r="2.1"/>
<circle cx="812.3" cy="461" r="2.1"/>
<circle cx="824.9" cy="461" r="2.1"/>
<circle cx="835.4" cy="461" r="2.1"/>
<circle cx="848" cy="461" r="2.1"/>
<circle cx="862.7" cy="461" r="2.1"/>
<circle cx="866.9" cy="461" r="2.1"/>
<circle cx="881.6" cy="461" r="2.1"/>
<circle cx="904.7" cy="461" r="2.1"/>
<circle cx="923.7" cy="461" r="2.1"/>
<circle cx="787.1" cy="469" r="2.1"/>
<circle cx="793.4" cy="469" r="2.1"/>
<circle cx="801.8" cy="469" r="2.1"/>
<circle cx="816.5" cy="469" r="2.1"/>
<circle cx="831.2" cy="469" r="2.1"/>
<circle cx="835.4" cy="469" r="2.1"/>
<circle cx="839.6" cy="469" r="2.1"/>
<circle cx="843.8" cy="469" r="2.1"/>
<circle cx="848" cy="469" r="2.1"/>
<circle cx="854.3" cy="469" r="2.1"/>
<circle cx="856.4" cy="469" r="2.1"/>
<circle cx="860.6" cy="469" r="2.1"/>
<circle cx="864.8" cy="469" r="2.1"/>
<circle cx="899.5" cy="469" r="2.1"/>
<circle cx="904.7" cy="469" r="2.1"/>
<circle cx="913.2" cy="469" r="2.1"/>
<circle cx="921.6" cy="469" r="2.1"/>
<circle cx="927.9" cy="469" r="2.1"/>
<circle cx="934.2" cy="469" r="2.1"/>
<circle cx="976.2" cy="469" r="2.1"/>
<circle cx="785" cy="477.1" r="2.1"/>
<circle cx="794.1" cy="477.1" r="2.1"/>
<circle cx="798.7" cy="477.1" r="2.1"/>
<circle cx="803.3" cy="477.1" r="2.1"/>
<circle cx="807.9" cy="477.1" r="2.1"/>
<circle cx="812.4" cy="477.1" r="2.1"/>
<circle cx="817" cy="477.1" r="2.1"/>
<circle cx="821.6" cy="477.1" r="2.1"/>
<circle cx="826.2" cy="477.1" r="2.1"/>
<circle cx="830.7" cy="477.1" r="2.1"/>
<circle cx="835.3" cy="477.1" r="2.1"/>
<circle cx="839.9" cy="477.1" r="2.1"/>
<circle cx="844.4" cy="477.1" r="2.1"/>
<circle cx="849" cy="477.1" r="2.1"/>
<circle cx="853.6" cy="477.1" r="2.1"/>
<circle cx="858.2" cy="477.1" r="2.1"/>
<circle cx="872.1" cy="477.1" r="2.1"/>
<circle cx="881.4" cy="477.1" r="2.1"/>
<circle cx="886.1" cy="477.1" r="2.1"/>
<circle cx="914.1" cy="477.1" r="2.1"/>
<circle cx="923.4" cy="477.1" r="2.1"/>
<circle cx="956.1" cy="477.1" r="2.1"/>
<circle cx="988.8" cy="477.1" r="2.1"/>
<circle cx="854.3" cy="485.1" r="2.1"/>
<circle cx="890" cy="485.1" r="2.1"/>
<circle cx="894.2" cy="485.1" r="2.1"/>
<circle cx="900.5" cy="485.1" r="2.1"/>
<circle cx="911.1" cy="485.1" r="2.1"/>
<circle cx="932.1" cy="485.1" r="2.1"/>
<circle cx="961.5" cy="485.1" r="2.1"/>
<circle cx="816.5" cy="493.2" r="2.1"/>
<circle cx="824.9" cy="493.2" r="2.1"/>
<circle cx="839.6" cy="493.2" r="2.1"/>
<circle cx="848" cy="493.2" r="2.1"/>
<circle cx="854.3" cy="493.2" r="2.1"/>
<circle cx="860.6" cy="493.2" r="2.1"/>
<circle cx="864.8" cy="493.2" r="2.1"/>
<circle cx="869" cy="493.2" r="2.1"/>
<circle cx="873.2" cy="493.2" r="2.1"/>
<circle cx="877.4" cy="493.2" r="2.1"/>
<circle cx="883.7" cy="493.2" r="2.1"/>
<circle cx="890" cy="493.2" r="2.1"/>
<circle cx="898.4" cy="493.2" r="2.1"/>
<circle cx="911.1" cy="493.2" r="2.1"/>
<circle cx="917.4" cy="493.2" r="2.1"/>
<circle cx="932.1" cy="493.2" r="2.1"/>
<circle cx="946.8" cy="493.2" r="2.1"/>
<circle cx="951" cy="493.2" r="2.1"/>
<circle cx="956.2" cy="493.2" r="2.1"/>
<circle cx="961.5" cy="493.2" r="2.1"/>
<circle cx="793.4" cy="501.2" r="2.1"/>
<circle cx="822.8" cy="501.2" r="2.1"/>
<circle cx="848" cy="501.2" r="2.1"/>
<circle cx="858.5" cy="501.2" r="2.1"/>
<circle cx="871.1" cy="501.2" r="2.1"/>
<circle cx="883.7" cy="501.2" r="2.1"/>
<circle cx="894.2" cy="501.2" r="2.1"/>
<circle cx="917.4" cy="501.2" r="2.1"/>
<circle cx="944.7" cy="501.2" r="2.1"/>
<circle cx="948.9" cy="501.2" r="2.1"/>
<circle cx="793.4" cy="509.2" r="2.1"/>
<circle cx="797.6" cy="509.2" r="2.1"/>
<circle cx="806" cy="509.2" r="2.1"/>
<circle cx="814.4" cy="509.2" r="2.1"/>
<circle cx="866.2" cy="509.2" r="2.1"/>
<circle cx="870.7" cy="509.2" r="2.1"/>
<circle cx="875.3" cy="509.2" r="2.1"/>
<circle cx="879.8" cy="509.2" r="2.1"/>
<circle cx="888.9" cy="509.2" r="2.1"/>
<circle cx="893.4" cy="509.2" r="2.1"/>
<circle cx="898" cy="509.2" r="2.1"/>
<circle cx="907.1" cy="509.2" r="2.1"/>
<circle cx="911.6" cy="509.2" r="2.1"/>
<circle cx="916.1" cy="509.2" r="2.1"/>
<circle cx="920.7" cy="509.2" r="2.1"/>
<circle cx="947.9" cy="509.2" r="2.1"/>
<circle cx="957" cy="509.2" r="2.1"/>
<circle cx="791.3" cy="517.3" r="2.1"/>
<circle cx="795.5" cy="517.3" r="2.1"/>
<circle cx="806" cy="517.3" r="2.1"/>
<circle cx="843.8" cy="517.3" r="2.1"/>
<circle cx="848" cy="517.3" r="2.1"/>
<circle cx="877.4" cy="517.3" r="2.1"/>
<circle cx="902.6" cy="517.3" r="2.1"/>
<circle cx="919.5" cy="517.3" r="2.1"/>
<circle cx="932.1" cy="517.3" r="2.1"/>
<circle cx="944.7" cy="517.3" r="2.1"/>
<circle cx="955.2" cy="517.3" r="2.1"/>
<circle cx="960.2" cy="517.3" r="2.1"/>
<circle cx="965.3" cy="517.3" r="2.1"/>
<circle cx="970.3" cy="517.3" r="2.1"/>
<circle cx="975.3" cy="517.3" r="2.1"/>
<circle cx="980.4" cy="517.3" r="2.1"/>
<circle cx="787.1" cy="525.3" r="2.1"/>
<circle cx="824.9" cy="525.3" r="2.1"/>
<circle cx="848" cy="525.3" r="2.1"/>
<circle cx="852.2" cy="525.3" r="2.1"/>
<circle cx="894.2" cy="525.3" r="2.1"/>
<circle cx="902.6" cy="525.3" r="2.1"/>
<circle cx="927.9" cy="525.3" r="2.1"/>
<circle cx="940.5" cy="525.3" r="2.1"/>
<circle cx="944.7" cy="525.3" r="2.1"/>
<circle cx="963.6" cy="525.3" r="2.1"/>
<circle cx="982.5" cy="525.3" r="2.1"/>
<circle cx="714.5" cy="340.4" r="2.1"/>
<circle cx="721.2" cy="340.4" r="2.1"/>
<circle cx="751.2" cy="340.4" r="2.1"/>
<circle cx="757.5" cy="340.4" r="2.1"/>
<circle cx="769.1" cy="340.4" r="2.1"/>
<circle cx="779.6" cy="340.4" r="2.1"/>
<circle cx="637.8" cy="348.4" r="2.1"/>
<circle cx="672.4" cy="348.4" r="2.1"/>
<circle cx="701.4" cy="348.4" r="2.1"/>
<circle cx="716.6" cy="348.4" r="2.1"/>
<circle cx="723.3" cy="348.4" r="2.1"/>
<circle cx="742.8" cy="348.4" r="2.1"/>
<circle cx="747.2" cy="348.4" r="2.1"/>
<circle cx="751.6" cy="348.4" r="2.1"/>
<circle cx="756.1" cy="348.4" r="2.1"/>
<circle cx="760.5" cy="348.4" r="2.1"/>
<circle cx="764.9" cy="348.4" r="2.1"/>
<circle cx="769.1" cy="348.4" r="2.1"/>
<circle cx="776.4" cy="348.4" r="2.1"/>
<circle cx="778.5" cy="348.4" r="2.1"/>
<circle cx="788" cy="348.4" r="2.1"/>
<circle cx="580" cy="356.5" r="2.1"/>
<circle cx="672.4" cy="356.5" r="2.1"/>
<circle cx="701.4" cy="356.5" r="2.1"/>
<circle cx="730.8" cy="356.5" r="2.1"/>
<circle cx="741.3" cy="356.5" r="2.1"/>
<circle cx="758.2" cy="356.5" r="2.1"/>
<circle cx="765.9" cy="356.5" r="2.1"/>
<circle cx="770.9" cy="356.5" r="2.1"/>
<circle cx="775.9" cy="356.5" r="2.1"/>
<circle cx="780.9" cy="356.5" r="2.1"/>
<circle cx="785.9" cy="356.5" r="2.1"/>
<circle cx="706.1" cy="364.5" r="2.1"/>
<circle cx="712.8" cy="364.5" r="2.1"/>
<circle cx="733.4" cy="364.5" r="2.1"/>
<circle cx="736.5" cy="364.5" r="2.1"/>
<circle cx="749.7" cy="364.5" r="2.1"/>
<circle cx="758.2" cy="364.5" r="2.1"/>
<circle cx="773.3" cy="364.5" r="2.1"/>
<circle cx="776.4" cy="364.5" r="2.1"/>
<circle cx="782.7" cy="364.5" r="2.1"/>
<circle cx="712.8" cy="372.6" r="2.1"/>
<circle cx="734.6" cy="372.6" r="2.1"/>
<circle cx="699.3" cy="380.6" r="2.1"/>
<circle cx="742.8" cy="380.6" r="2.1"/>
<circle cx="748.1" cy="380.6" r="2.1"/>
<circle cx="751.2" cy="380.6" r="2.1"/>
<circle cx="757.5" cy="380.6" r="2.1"/>
<circle cx="759.6" cy="380.6" r="2.1"/>
<circle cx="764.9" cy="380.6" r="2.1"/>
<circle cx="773.3" cy="380.6" r="2.1"/>
<circle cx="781.3" cy="380.6" r="2.1"/>
<circle cx="788" cy="380.6" r="2.1"/>
<circle cx="672.4" cy="388.6" r="2.1"/>
<circle cx="729.8" cy="388.6" r="2.1"/>
<circle cx="734.4" cy="388.6" r="2.1"/>
<circle cx="749.7" cy="388.6" r="2.1"/>
<circle cx="757.5" cy="388.6" r="2.1"/>
<circle cx="784.8" cy="388.6" r="2.1"/>
<circle cx="788" cy="388.6" r="2.1"/>
<circle cx="699.3" cy="396.7" r="2.1"/>
<circle cx="717" cy="396.7" r="2.1"/>
<circle cx="727.1" cy="396.7" r="2.1"/>
<circle cx="738.6" cy="396.7" r="2.1"/>
<circle cx="740.7" cy="396.7" r="2.1"/>
<circle cx="743.9" cy="396.7" r="2.1"/>
<circle cx="748.1" cy="396.7" r="2.1"/>
<circle cx="751.2" cy="396.7" r="2.1"/>
<circle cx="762.4" cy="396.7" r="2.1"/>
<circle cx="764.9" cy="396.7" r="2.1"/>
<circle cx="772.2" cy="396.7" r="2.1"/>
<circle cx="784.8" cy="396.7" r="2.1"/>
<circle cx="789" cy="396.7" r="2.1"/>
<circle cx="701.4" cy="404.7" r="2.1"/>
<circle cx="716.6" cy="404.7" r="2.1"/>
<circle cx="743.4" cy="404.7" r="2.1"/>
<circle cx="748.1" cy="404.7" r="2.1"/>
<circle cx="754.4" cy="404.7" r="2.1"/>
<circle cx="758.6" cy="404.7" r="2.1"/>
<circle cx="761.7" cy="404.7" r="2.1"/>
<circle cx="769.1" cy="404.7" r="2.1"/>
<circle cx="773.3" cy="404.7" r="2.1"/>
<circle cx="672.4" cy="412.8" r="2.1"/>
<circle cx="712.4" cy="412.8" r="2.1"/>
<circle cx="716.6" cy="412.8" r="2.1"/>
<circle cx="727.1" cy="412.8" r="2.1"/>
<circle cx="744.9" cy="412.8" r="2.1"/>
<circle cx="750.2" cy="412.8" r="2.1"/>
<circle cx="759.6" cy="412.8" r="2.1"/>
<circle cx="762.8" cy="412.8" r="2.1"/>
<circle cx="767.5" cy="412.8" r="2.1"/>
<circle cx="772.2" cy="412.8" r="2.1"/>
<circle cx="777" cy="412.8" r="2.1"/>
<circle cx="781.7" cy="412.8" r="2.1"/>
<circle cx="725" cy="420.8" r="2.1"/>
<circle cx="729.2" cy="420.8" r="2.1"/>
<circle cx="741.8" cy="420.8" r="2.1"/>
<circle cx="748.1" cy="420.8" r="2.1"/>
<circle cx="754.4" cy="420.8" r="2.1"/>
<circle cx="770.1" cy="420.8" r="2.1"/>
<circle cx="778.5" cy="420.8" r="2.1"/>
<circle cx="785.9" cy="420.8" r="2.1"/>
<circle cx="788" cy="420.8" r="2.1"/>
<circle cx="760.7" cy="428.8" r="2.1"/>
<circle cx="779.6" cy="428.8" r="2.1"/>
<circle cx="785.9" cy="428.8" r="2.1"/>
<circle cx="796.6" cy="340.4" r="2.1"/>
<circle cx="806" cy="340.4" r="2.1"/>
<circle cx="794.5" cy="348.4" r="2.1"/>
<circle cx="803.9" cy="348.4" r="2.1"/>
<circle cx="809.2" cy="348.4" r="2.1"/>
<circle cx="816.5" cy="348.4" r="2.1"/>
<circle cx="822.8" cy="348.4" r="2.1"/>
<circle cx="842.8" cy="348.4" r="2.1"/>
<circle cx="848" cy="348.4" r="2.1"/>
<circle cx="858.5" cy="348.4" r="2.1"/>
<circle cx="960.4" cy="348.4" r="2.1"/>
<circle cx="791.3" cy="356.5" r="2.1"/>
<circle cx="797.6" cy="356.5" r="2.1"/>
<circle cx="808.1" cy="356.5" r="2.1"/>
<circle cx="816.5" cy="356.5" r="2.1"/>
<circle cx="854.3" cy="356.5" r="2.1"/>
<circle cx="906.8" cy="356.5" r="2.1"/>
<circle cx="913.2" cy="356.5" r="2.1"/>
<circle cx="796.6" cy="364.5" r="2.1"/>
<circle cx="827" cy="364.5" r="2.1"/>
<circle cx="830.2" cy="364.5" r="2.1"/>
<circle cx="843.8" cy="364.5" r="2.1"/>
<circle cx="848" cy="364.5" r="2.1"/>
<circle cx="879.5" cy="364.5" r="2.1"/>
<circle cx="962.5" cy="364.5" r="2.1"/>
<circle cx="977.2" cy="364.5" r="2.1"/>
<circle cx="797.6" cy="372.6" r="2.1"/>
<circle cx="843.8" cy="372.6" r="2.1"/>
<circle cx="850.1" cy="372.6" r="2.1"/>
<circle cx="869" cy="372.6" r="2.1"/>
<circle cx="800.8" cy="380.6" r="2.1"/>
<circle cx="805.2" cy="380.6" r="2.1"/>
<circle cx="809.7" cy="380.6" r="2.1"/>
<circle cx="814.1" cy="380.6" r="2.1"/>
<circle cx="818.6" cy="380.6" r="2.1"/>
<circle cx="822.8" cy="380.6" r="2.1"/>
<circle cx="827" cy="380.6" r="2.1"/>
<circle cx="831.2" cy="380.6" r="2.1"/>
<circle cx="835.4" cy="380.6" r="2.1"/>
<circle cx="839.6" cy="380.6" r="2.1"/>
<circle cx="845.9" cy="380.6" r="2.1"/>
<circle cx="850.1" cy="380.6" r="2.1"/>
<circle cx="869" cy="380.6" r="2.1"/>
<circle cx="797.6" cy="388.6" r="2.1"/>
<circle cx="808.1" cy="388.6" r="2.1"/>
<circle cx="814.4" cy="388.6" r="2.1"/>
<circle cx="832.3" cy="388.6" r="2.1"/>
<circle cx="837.5" cy="388.6" r="2.1"/>
<circle cx="856.4" cy="388.6" r="2.1"/>
<circle cx="863.8" cy="388.6" r="2.1"/>
<circle cx="883.7" cy="388.6" r="2.1"/>
<circle cx="890" cy="388.6" r="2.1"/>
<circle cx="902.6" cy="388.6" r="2.1"/>
<circle cx="911.1" cy="388.6" r="2.1"/>
<circle cx="976.2" cy="388.6" r="2.1"/>
<circle cx="791.3" cy="396.7" r="2.1"/>
<circle cx="805" cy="396.7" r="2.1"/>
<circle cx="808.1" cy="396.7" r="2.1"/>
<circle cx="816.5" cy="396.7" r="2.1"/>
<circle cx="820.7" cy="396.7" r="2.1"/>
<circle cx="824.9" cy="396.7" r="2.1"/>
<circle cx="831.2" cy="396.7" r="2.1"/>
<circle cx="837.5" cy="396.7" r="2.1"/>
<circle cx="843.8" cy="396.7" r="2.1"/>
<circle cx="850.1" cy="396.7" r="2.1"/>
<circle cx="866.9" cy="396.7" r="2.1"/>
<circle cx="879.5" cy="396.7" r="2.1"/>
<circle cx="883.7" cy="396.7" r="2.1"/>
<circle cx="887.9" cy="396.7" r="2.1"/>
<circle cx="894.2" cy="396.7" r="2.1"/>
<circle cx="899.5" cy="396.7" r="2.1"/>
<circle cx="913.2" cy="396.7" r="2.1"/>
<circle cx="921.6" cy="396.7" r="2.1"/>
<circle cx="797.6" cy="404.7" r="2.1"/>
<circle cx="816.5" cy="404.7" r="2.1"/>
<circle cx="820.7" cy="404.7" r="2.1"/>
<circle cx="827" cy="404.7" r="2.1"/>
<circle cx="839.6" cy="404.7" r="2.1"/>
<circle cx="848" cy="404.7" r="2.1"/>
<circle cx="881.6" cy="404.7" r="2.1"/>
<circle cx="887.9" cy="404.7" r="2.1"/>
<circle cx="894.2" cy="404.7" r="2.1"/>
<circle cx="908.9" cy="404.7" r="2.1"/>
<circle cx="913.2" cy="404.7" r="2.1"/>
<circle cx="925.8" cy="404.7" r="2.1"/>
<circle cx="946.8" cy="404.7" r="2.1"/>
<circle cx="953.1" cy="404.7" r="2.1"/>
<circle cx="959.4" cy="404.7" r="2.1"/>
<circle cx="789.2" cy="412.8" r="2.1"/>
<circle cx="793.8" cy="412.8" r="2.1"/>
<circle cx="798.4" cy="412.8" r="2.1"/>
<circle cx="803.1" cy="412.8" r="2.1"/>
<circle cx="807.7" cy="412.8" r="2.1"/>
<circle cx="812.3" cy="412.8" r="2.1"/>
<circle cx="816.5" cy="412.8" r="2.1"/>
<circle cx="823.9" cy="412.8" r="2.1"/>
<circle cx="838.6" cy="412.8" r="2.1"/>
<circle cx="845.9" cy="412.8" r="2.1"/>
<circle cx="854.3" cy="412.8" r="2.1"/>
<circle cx="871.1" cy="412.8" r="2.1"/>
<circle cx="875.3" cy="412.8" r="2.1"/>
<circle cx="885.8" cy="412.8" r="2.1"/>
<circle cx="892.1" cy="412.8" r="2.1"/>
<circle cx="896.3" cy="412.8" r="2.1"/>
<circle cx="798.7" cy="420.8" r="2.1"/>
<circle cx="816.5" cy="420.8" r="2.1"/>
<circle cx="822.8" cy="420.8" r="2.1"/>
<circle cx="833.3" cy="420.8" r="2.1"/>
<circle cx="839.6" cy="420.8" r="2.1"/>
<circle cx="852.2" cy="420.8" r="2.1"/>
<circle cx="864.8" cy="420.8" r="2.1"/>
<circle cx="881.6" cy="420.8" r="2.1"/>
<circle cx="890" cy="420.8" r="2.1"/>
<circle cx="896.3" cy="420.8" r="2.1"/>
<circle cx="902.6" cy="420.8" r="2.1"/>
<circle cx="913.2" cy="420.8" r="2.1"/>
<circle cx="957.3" cy="420.8" r="2.1"/>
<circle cx="963.6" cy="420.8" r="2.1"/>
<circle cx="969.9" cy="420.8" r="2.1"/>
<circle cx="833.3" cy="428.8" r="2.1"/>
<circle cx="864.8" cy="428.8" r="2.1"/>
<circle cx="892.1" cy="428.8" r="2.1"/>
<circle cx="718.7" cy="243.9" r="2.1"/>
<circle cx="738" cy="243.9" r="2.1"/>
<circle cx="773.3" cy="252" r="2.1"/>
<circle cx="699.1" cy="260" r="2.1"/>
<circle cx="786.9" cy="260" r="2.1"/>
<circle cx="694.1" cy="268" r="2.1"/>
<circle cx="730.8" cy="268" r="2.1"/>
<circle cx="737.6" cy="268" r="2.1"/>
<circle cx="741.8" cy="268" r="2.1"/>
<circle cx="749.7" cy="268" r="2.1"/>
<circle cx="754.4" cy="268" r="2.1"/>
<circle cx="759.6" cy="268" r="2.1"/>
<circle cx="769.1" cy="268" r="2.1"/>
<circle cx="694.1" cy="276.1" r="2.1"/>
<circle cx="712.8" cy="276.1" r="2.1"/>
<circle cx="771.6" cy="276.1" r="2.1"/>
<circle cx="732.9" cy="284.1" r="2.1"/>
<circle cx="758.2" cy="284.1" r="2.1"/>
<circle cx="672" cy="292.2" r="2.1"/>
<circle cx="710.3" cy="292.2" r="2.1"/>
<circle cx="717" cy="292.2" r="2.1"/>
<circle cx="741.3" cy="292.2" r="2.1"/>
<circle cx="749.1" cy="292.2" r="2.1"/>
<circle cx="754.4" cy="292.2" r="2.1"/>
<circle cx="769.1" cy="292.2" r="2.1"/>
<circle cx="779.6" cy="292.2" r="2.1"/>
<circle cx="782.7" cy="292.2" r="2.1"/>
<circle cx="788" cy="292.2" r="2.1"/>
<circle cx="727.1" cy="300.2" r="2.1"/>
<circle cx="734.8" cy="300.2" r="2.1"/>
<circle cx="754.4" cy="300.2" r="2.1"/>
<circle cx="759" cy="300.2" r="2.1"/>
<circle cx="765.9" cy="300.2" r="2.1"/>
<circle cx="769.1" cy="300.2" r="2.1"/>
<circle cx="663" cy="308.2" r="2.1"/>
<circle cx="699.1" cy="308.2" r="2.1"/>
<circle cx="706.1" cy="308.2" r="2.1"/>
<circle cx="753.3" cy="308.2" r="2.1"/>
<circle cx="773.3" cy="308.2" r="2.1"/>
<circle cx="779.6" cy="308.2" r="2.1"/>
<circle cx="672" cy="316.3" r="2.1"/>
<circle cx="691.3" cy="316.3" r="2.1"/>
<circle cx="696.6" cy="316.3" r="2.1"/>
<circle cx="699.3" cy="316.3" r="2.1"/>
<circle cx="717" cy="316.3" r="2.1"/>
<circle cx="728.7" cy="316.3" r="2.1"/>
<circle cx="734.4" cy="316.3" r="2.1"/>
<circle cx="743.4" cy="316.3" r="2.1"/>
<circle cx="758.6" cy="316.3" r="2.1"/>
<circle cx="769.1" cy="316.3" r="2.1"/>
<circle cx="777.5" cy="316.3" r="2.1"/>
<circle cx="785.9" cy="316.3" r="2.1"/>
<circle cx="789" cy="316.3" r="2.1"/>
<circle cx="714.9" cy="324.3" r="2.1"/>
<circle cx="747" cy="324.3" r="2.1"/>
<circle cx="757.5" cy="324.3" r="2.1"/>
<circle cx="775.8" cy="324.3" r="2.1"/>
<circle cx="785.5" cy="324.3" r="2.1"/>
<circle cx="694.1" cy="332.4" r="2.1"/>
<circle cx="703.9" cy="332.4" r="2.1"/>
<circle cx="717" cy="332.4" r="2.1"/>
<circle cx="723.3" cy="332.4" r="2.1"/>
<circle cx="729.2" cy="332.4" r="2.1"/>
<circle cx="739.7" cy="332.4" r="2.1"/>
<circle cx="748.1" cy="332.4" r="2.1"/>
<circle cx="752.7" cy="332.4" r="2.1"/>
<circle cx="757.4" cy="332.4" r="2.1"/>
<circle cx="762.1" cy="332.4" r="2.1"/>
<circle cx="766.7" cy="332.4" r="2.1"/>
<circle cx="771.4" cy="332.4" r="2.1"/>
<circle cx="776.1" cy="332.4" r="2.1"/>
<circle cx="780.7" cy="332.4" r="2.1"/>
<circle cx="785.4" cy="332.4" r="2.1"/>
<circle cx="790.1" cy="332.4" r="2.1"/>
<circle cx="808.1" cy="260" r="2.1"/>
<circle cx="826" cy="268" r="2.1"/>
<circle cx="827" cy="276.1" r="2.1"/>
<circle cx="847" cy="284.1" r="2.1"/>
<circle cx="844.9" cy="292.2" r="2.1"/>
<circle cx="859.6" cy="292.2" r="2.1"/>
<circle cx="807.1" cy="300.2" r="2.1"/>
<circle cx="852.6" cy="300.2" r="2.1"/>
<circle cx="923.2" cy="300.2" r="2.1"/>
<circle cx="805" cy="308.2" r="2.1"/>
<circle cx="827" cy="308.2" r="2.1"/>
<circle cx="831.2" cy="308.2" r="2.1"/>
<circle cx="852.2" cy="308.2" r="2.1"/>
<circle cx="880.6" cy="308.2" r="2.1"/>
<circle cx="903.7" cy="308.2" r="2.1"/>
<circle cx="795.5" cy="316.3" r="2.1"/>
<circle cx="823.9" cy="316.3" r="2.1"/>
<circle cx="830.2" cy="316.3" r="2.1"/>
<circle cx="835.4" cy="316.3" r="2.1"/>
<circle cx="799.7" cy="324.3" r="2.1"/>
<circle cx="818.6" cy="324.3" r="2.1"/>
<circle cx="856.4" cy="324.3" r="2.1"/>
<circle cx="880.6" cy="324.3" r="2.1"/>
<circle cx="902.6" cy="324.3" r="2.1"/>
<circle cx="792.4" cy="332.4" r="2.1"/>
<circle cx="797.6" cy="332.4" r="2.1"/>
<circle cx="814.4" cy="332.4" r="2.1"/>
<circle cx="853.3" cy="332.4" r="2.1"/>
<circle cx="869" cy="332.4" r="2.1"/>
<circle cx="895.3" cy="332.4" r="2.1"/>
<circle cx="757.5" cy="203.7" r="2.1"/>
<circle cx="891.7" cy="219.8" r="2.1"/>
</g>
<g fill="#ddb0ec" stroke="#9c50b8" stroke-width="1.2">
<rect x="974.3" y="431.8" width="18.5" height="9"/>
<rect x="828.3" y="329.5" width="18.5" height="9"/>
<rect x="858.7" y="351.6" width="18.5" height="9"/>
<rect x="916.1" y="359.5" width="18.5" height="9"/>
<rect x="887.1" y="375.7" width="18.5" height="9"/>
<rect x="944.9" y="391.9" width="18.5" height="9"/>
<rect x="742" y="271.3" width="18.5" height="9"/>
<rect x="801" y="279.3" width="18.5" height="9"/>
<rect x="771.9" y="199.2" width="18.5" height="9"/>
</g>
<g fill="#3b89c7" stroke="#2a70ad" stroke-width="1">
<circle cx="897.4" cy="531.9" r="8"/>
<circle cx="925.3" cy="564.9" r="8"/>
<circle cx="954.7" cy="563.8" r="8"/>
<circle cx="983.5" cy="564.9" r="8"/>
<circle cx="751.8" cy="436.3" r="8"/>
<circle cx="780.6" cy="459.4" r="8"/>
<circle cx="810.2" cy="476.2" r="8"/>
<circle cx="838.6" cy="508.8" r="8"/>
<circle cx="868" cy="516.1" r="8"/>
<circle cx="694.1" cy="364" r="8"/>
<circle cx="666.1" cy="396" r="8"/>
<circle cx="723.3" cy="404" r="8"/>
</g>
<path d="M579.0,175.6 L582.0,176.0 L585.0,176.4 L588.1,176.8 L591.1,177.1 L594.1,177.6 L597.1,178.0 L600.1,178.4 L603.1,178.8 L606.2,179.3 L609.2,179.8 L612.2,180.3 L615.2,180.8 L618.2,181.3 L621.2,181.9 L624.3,182.5 L627.3,183.1 L630.3,183.7 L633.3,184.4 L636.3,185.1 L639.3,185.8 L642.4,186.5 L645.4,187.3 L648.4,188.1 L651.4,188.9 L654.4,189.8 L657.4,190.7 L660.5,191.7 L663.5,192.7 L666.5,193.7 L669.5,194.8 L672.5,195.9 L675.5,197.0 L678.6,198.2 L681.6,199.5 L684.6,200.7 L687.6,202.1 L690.6,203.5 L693.6,204.9 L696.7,206.4 L699.7,207.9 L702.7,209.5 L705.7,211.1 L708.7,212.8 L711.7,214.6 L714.8,216.4 L717.8,218.3 L720.8,220.2 L723.8,222.2 L726.8,224.3 L729.8,226.4 L732.9,228.6 L735.9,230.8 L738.9,233.1 L741.9,235.5 L744.9,238.0 L747.9,240.5 L751.0,243.0 L754.0,245.7 L757.0,248.3 L760.0,251.1 L763.0,253.8 L766.1,256.7 L769.1,259.5 L772.1,262.4 L775.1,265.4 L778.1,268.3 L781.1,271.4 L784.2,274.4 L787.2,277.5 L790.2,280.6 L793.2,283.7 L796.2,286.8 L799.2,290.0 L802.3,293.1 L805.3,296.3 L808.3,299.5 L811.3,302.7 L814.3,305.9 L817.3,309.1 L820.4,312.3 L823.4,315.5 L826.4,318.7 L829.4,321.9 L832.4,325.1 L835.4,328.3 L838.5,331.4 L841.5,334.6 L844.5,337.8 L847.5,341.0 L850.5,344.2 L853.5,347.3 L856.6,350.5 L859.6,353.7 L862.6,356.9 L865.6,360.0 L868.6,363.2 L871.6,366.4 L874.7,369.5 L877.7,372.7 L880.7,375.9 L883.7,379.1 L886.7,382.2 L889.7,385.4 L892.8,388.6 L895.8,391.7 L898.8,394.9 L901.8,397.9 L904.8,400.8 L907.8,403.7 L910.9,406.4 L913.9,409.0 L916.9,411.4 L919.9,413.6 L922.9,415.6 L925.9,417.4 L929.0,418.9 L932.0,420.2 L935.0,421.1 L950.0,420.3 L987.5,419.8" fill="none" stroke="#8d3fbf" stroke-width="2.3"/>
<path d="M579.0,136.4 L582.0,136.6 L585.0,136.9 L588.0,137.3 L591.1,137.7 L594.1,138.1 L597.1,138.6 L600.1,139.2 L603.1,139.8 L606.1,140.5 L609.1,141.3 L612.2,142.1 L615.2,142.9 L618.2,143.9 L621.2,144.8 L624.2,145.9 L627.2,147.0 L630.2,148.1 L633.3,149.3 L636.3,150.6 L639.3,151.9 L642.3,153.3 L645.3,154.7 L648.3,156.2 L651.3,157.7 L654.4,159.3 L657.4,160.9 L660.4,162.6 L663.4,164.4 L666.4,166.2 L669.4,168.1 L672.4,170.0 L675.5,172.0 L678.5,174.0 L681.5,176.1 L684.5,178.2 L687.5,180.4 L690.5,182.6 L693.5,184.9 L696.6,187.3 L699.6,189.6 L702.6,192.1 L705.6,194.6 L708.6,197.1 L711.6,199.7 L714.6,202.4 L717.7,205.1 L720.7,207.9 L723.7,210.7 L726.7,213.5 L729.7,216.4 L732.7,219.4 L735.7,222.4 L738.7,225.4 L741.8,228.5 L744.8,231.7 L747.8,234.9 L750.8,238.1 L753.8,241.4 L756.8,244.8 L759.8,248.2 L762.9,251.6 L765.9,255.1 L768.9,258.7 L771.9,262.2 L774.9,265.9 L777.9,269.5 L780.9,273.2 L784.0,276.9 L787.0,280.7 L790.0,284.5 L793.0,288.3 L796.0,292.1 L799.0,295.9 L802.0,299.8 L805.1,303.7 L808.1,307.6 L811.1,311.5 L814.1,315.5 L817.1,319.4 L820.1,323.4 L823.1,327.3 L826.2,331.3 L829.2,335.2 L832.2,339.2 L835.2,343.1 L838.2,347.1 L841.2,351.0 L844.2,354.9 L847.3,358.8 L850.3,362.7 L853.3,366.6 L856.3,370.5 L859.3,374.3 L862.3,378.1 L865.3,381.9 L868.4,385.7 L871.4,389.4 L874.4,393.1 L877.4,396.8 L880.5,399.4 L883.5,401.9 L886.6,404.3 L889.6,406.6 L892.7,408.9 L895.8,411.1 L898.8,413.2 L901.9,415.3 L904.9,417.3 L908.0,419.3 L911.0,421.2 L914.1,423.0 L917.2,424.8 L920.2,426.6 L923.3,428.3 L926.3,430.0 L929.4,431.7 L932.5,433.3 L935.5,434.9 L938.6,436.4 L941.6,438.0 L944.7,439.5 L947.7,441.0 L950.8,442.4 L953.9,443.9 L956.9,445.4 L960.0,446.8 L963.0,448.3 L966.1,449.7 L969.1,451.1 L972.2,452.6 L975.3,454.0 L978.3,455.5 L981.4,457.0 L984.4,458.5 L987.5,460.0" fill="none" stroke="#000" stroke-width="2.6" stroke-dasharray="6 3.2"/>
<path d="M579.0,344.2 L582.0,345.3 L585.0,346.5 L588.0,347.7 L591.0,349.0 L594.0,350.3 L597.0,351.7 L600.1,353.1 L603.1,354.5 L606.1,356.0 L609.1,357.6 L612.1,359.3 L615.1,361.0 L618.1,362.7 L621.1,364.6 L624.1,366.5 L627.1,368.5 L630.1,370.6 L633.1,372.8 L636.1,375.0 L639.1,377.4 L642.2,379.8 L645.2,382.3 L648.2,384.8 L651.2,387.4 L654.2,390.1 L657.2,392.7 L660.2,395.4 L663.2,398.1 L666.2,400.8 L669.2,403.4 L672.2,406.1 L675.2,408.7 L678.2,411.2 L681.2,413.7 L684.3,416.2 L687.3,418.6 L690.3,421.0 L693.3,423.4 L696.3,425.7 L699.3,427.9 L702.3,430.1 L705.3,432.3 L708.3,434.5 L711.3,436.6 L714.3,438.7 L717.3,440.8 L720.3,442.8 L723.4,444.8 L726.4,446.8 L729.4,448.7 L732.4,450.6 L735.4,452.5 L738.4,454.4 L741.4,456.2 L744.4,458.0 L747.4,459.8 L750.4,461.6 L753.4,463.4 L756.4,465.2 L759.4,466.9 L762.4,468.6 L765.5,470.3 L768.5,472.0 L771.5,473.7 L774.5,475.4 L777.5,477.0 L780.5,478.7 L783.5,480.3 L786.5,482.0 L789.5,483.6 L792.5,485.2 L795.5,486.8 L798.5,488.5 L801.5,490.0 L804.6,491.6 L807.6,493.2 L810.6,494.8 L813.6,496.3 L816.6,497.9 L819.6,499.4 L822.6,501.0 L825.6,502.5 L828.6,504.0 L831.6,505.5 L834.6,507.0 L837.6,508.5 L840.6,510.0 L843.6,511.5 L846.7,512.9 L849.7,514.4 L852.7,515.8 L855.7,517.3 L858.7,518.7 L861.7,520.1 L864.7,521.5 L867.7,522.9 L870.7,524.3 L873.7,525.7 L876.7,527.1 L879.7,528.4 L882.7,529.8 L885.8,531.1 L888.8,532.5 L891.8,533.8 L894.8,535.1 L897.8,536.4 L900.8,537.8 L903.8,539.0 L906.8,540.3 L909.8,541.6 L912.8,542.9 L915.8,544.1 L918.8,545.4 L921.8,546.6 L924.8,547.9 L927.9,549.1 L930.9,550.3 L933.9,551.5 L936.9,552.7 L939.9,553.9 L942.9,555.1 L945.9,556.3 L948.9,557.4 L951.9,558.6 L954.9,559.7 L957.9,560.8 L960.9,562.0 L963.9,563.1 L966.9,564.2 L970.0,565.3 L973.0,566.4 L976.0,567.5 L979.0,568.5 L982.0,569.6 L985.0,570.7 L988.0,571.7" fill="none" stroke="#727272" stroke-width="2.4" stroke-dasharray="6 3.2"/>
<path d="M579.0,322.6 L582.0,324.2 L585.0,325.8 L588.0,327.4 L591.0,329.0 L594.0,330.5 L597.0,332.1 L600.0,333.7 L603.0,335.2 L606.0,336.8 L609.0,338.4 L612.0,340.0 L615.0,341.6 L618.0,343.2 L621.0,344.9 L624.0,346.5 L627.1,348.2 L630.1,350.0 L633.1,351.7 L636.1,353.5 L639.1,355.3 L642.1,357.2 L645.1,359.1 L648.1,361.0 L651.1,363.0 L654.1,365.0 L657.1,367.1 L660.1,369.3 L663.1,371.5 L666.1,373.7 L669.1,376.0 L672.1,378.4 L675.1,380.9 L678.1,383.3 L681.1,385.9 L684.1,388.4 L687.1,391.0 L690.1,393.6 L693.1,396.3 L696.1,398.9 L699.1,401.6 L702.1,404.2 L705.1,406.9 L708.1,409.5 L711.1,412.2 L714.1,414.8 L717.2,417.4 L720.2,419.9 L723.2,422.5 L726.2,424.9 L729.2,427.4 L732.2,429.8 L735.2,432.1 L738.2,434.4 L741.2,436.7 L744.2,438.9 L747.2,441.1 L750.2,443.2 L753.2,445.2 L756.2,447.3 L759.2,449.2 L762.2,451.2 L765.2,453.1 L768.2,455.0 L771.2,456.8 L774.2,458.6 L777.2,460.4 L780.2,462.1 L783.2,463.8 L786.2,465.5 L789.2,467.1 L792.2,468.8 L795.2,470.3 L798.2,471.9 L801.2,473.4 L804.2,475.0 L807.3,476.4 L810.3,477.9 L813.3,479.3 L816.3,480.8 L819.3,482.2 L822.3,483.6 L825.3,484.9 L828.3,486.3 L831.3,487.6 L834.3,488.9 L837.3,490.2 L840.3,491.5 L843.3,492.8 L846.3,494.1 L849.3,495.3 L852.3,496.6 L855.3,497.8 L858.3,499.1 L861.3,500.3 L864.3,501.5 L867.3,502.7 L870.3,504.0 L873.3,505.2 L876.3,506.4 L879.3,507.6 L882.3,508.8 L885.3,510.0 L888.3,511.3 L891.3,512.5 L894.3,513.7 L897.4,515.0 L900.4,516.2 L903.4,517.5 L906.4,518.7 L909.4,520.0 L912.4,521.3 L915.4,522.6 L918.4,523.9 L921.4,525.2 L924.4,526.5 L927.4,527.9 L930.4,529.3 L933.4,530.7 L936.4,532.1 L939.4,533.5 L955.5,533.8 L988.0,533.8" fill="none" stroke="#1777b2" stroke-width="2.5"/>
<g fill="#e0e0e0" stroke="#1a1a1a" stroke-width="1.3">
<path d="M879.5,523.5l4.6,4.6l-4.6,4.6l-4.6,-4.6z"/>
<path d="M878.5,530.9l4.6,4.6l-4.6,4.6l-4.6,-4.6z"/>
<path d="M889,535.1l4.6,4.6l-4.6,4.6l-4.6,-4.6z"/>
<path d="M911.1,527.3l4.6,4.6l-4.6,4.6l-4.6,-4.6z"/>
<path d="M801.8,537.8l4.6,4.6l-4.6,4.6l-4.6,-4.6z"/>
<path d="M801.4,553.3l4.6,4.6l-4.6,4.6l-4.6,-4.6z"/>
<path d="M936.3,533l4.6,4.6l-4.6,4.6l-4.6,-4.6z"/>
<path d="M962.5,528.8l4.6,4.6l-4.6,4.6l-4.6,-4.6z"/>
<path d="M975.1,538.2l4.6,4.6l-4.6,4.6l-4.6,-4.6z"/>
<path d="M987.7,537.2l4.6,4.6l-4.6,4.6l-4.6,-4.6z"/>
<path d="M963.2,544.9l4.6,4.6l-4.6,4.6l-4.6,-4.6z"/>
<path d="M935.2,556.1l4.6,4.6l-4.6,4.6l-4.6,-4.6z"/>
<path d="M969.5,556.1l4.6,4.6l-4.6,4.6l-4.6,-4.6z"/>
<path d="M987.7,561.7l4.6,4.6l-4.6,4.6l-4.6,-4.6z"/>
<path d="M899.5,564.5l4.6,4.6l-4.6,4.6l-4.6,-4.6z"/>
<path d="M955.2,565.9l4.6,4.6l-4.6,4.6l-4.6,-4.6z"/>
<path d="M946.8,570.8l4.6,4.6l-4.6,4.6l-4.6,-4.6z"/>
<path d="M955.6,575l4.6,4.6l-4.6,4.6l-4.6,-4.6z"/>
<path d="M947.8,577.7l4.6,4.6l-4.6,4.6l-4.6,-4.6z"/>
<path d="M967.4,579.2l4.6,4.6l-4.6,4.6l-4.6,-4.6z"/>
<path d="M850.5,587.6l4.6,4.6l-4.6,4.6l-4.6,-4.6z"/>
<path d="M976.6,600.8l4.6,4.6l-4.6,4.6l-4.6,-4.6z"/>
<path d="M650.4,427.9l4.6,4.6l-4.6,4.6l-4.6,-4.6z"/>
<path d="M711.9,448.1l4.6,4.6l-4.6,4.6l-4.6,-4.6z"/>
<path d="M761.7,473.3l4.6,4.6l-4.6,4.6l-4.6,-4.6z"/>
<path d="M780.6,459.4l4.6,4.6l-4.6,4.6l-4.6,-4.6z"/>
<path d="M880.6,454.8l4.6,4.6l-4.6,4.6l-4.6,-4.6z"/>
<path d="M883.3,462.2l4.6,4.6l-4.6,4.6l-4.6,-4.6z"/>
<path d="M883.7,468.5l4.6,4.6l-4.6,4.6l-4.6,-4.6z"/>
<path d="M864.8,479.6l4.6,4.6l-4.6,4.6l-4.6,-4.6z"/>
<path d="M903.7,483.8l4.6,4.6l-4.6,4.6l-4.6,-4.6z"/>
<path d="M804.3,485.3l4.6,4.6l-4.6,4.6l-4.6,-4.6z"/>
<path d="M801.4,491.6l4.6,4.6l-4.6,4.6l-4.6,-4.6z"/>
<path d="M835,488.4l4.6,4.6l-4.6,4.6l-4.6,-4.6z"/>
<path d="M844.2,493.7l4.6,4.6l-4.6,4.6l-4.6,-4.6z"/>
<path d="M836.1,500.6l4.6,4.6l-4.6,4.6l-4.6,-4.6z"/>
<path d="M814.4,503.6l4.6,4.6l-4.6,4.6l-4.6,-4.6z"/>
<path d="M830.8,510.5l4.6,4.6l-4.6,4.6l-4.6,-4.6z"/>
<path d="M838.6,516.8l4.6,4.6l-4.6,4.6l-4.6,-4.6z"/>
<path d="M876.8,505.9l4.6,4.6l-4.6,4.6l-4.6,-4.6z"/>
<path d="M916.3,517.8l4.6,4.6l-4.6,4.6l-4.6,-4.6z"/>
<path d="M925.3,515.3l4.6,4.6l-4.6,4.6l-4.6,-4.6z"/>
<path d="M656.1,384.4l4.6,4.6l-4.6,4.6l-4.6,-4.6z"/>
</g>
<g stroke="#7a7a7a" stroke-width="1.1" fill="none">
<line x1="578.7" y1="58.8" x2="578.7" y2="626.8"/>
<line x1="572.7" y1="621.8" x2="988" y2="621.8"/>
<line x1="575.2" y1="541.4" x2="578.7" y2="541.4"/>
<line x1="572.2" y1="461" x2="578.7" y2="461"/>
<line x1="575.2" y1="380.6" x2="578.7" y2="380.6"/>
<line x1="572.2" y1="300.2" x2="578.7" y2="300.2"/>
<line x1="575.2" y1="219.8" x2="578.7" y2="219.8"/>
<line x1="572.2" y1="139.4" x2="578.7" y2="139.4"/>
<line x1="629.6" y1="621.8" x2="629.6" y2="626.8"/>
<line x1="665.7" y1="621.8" x2="665.7" y2="624.3"/>
<line x1="693.7" y1="621.8" x2="693.7" y2="624.3"/>
<line x1="716.6" y1="621.8" x2="716.6" y2="624.3"/>
<line x1="735.9" y1="621.8" x2="735.9" y2="624.3"/>
<line x1="752.7" y1="621.8" x2="752.7" y2="624.3"/>
<line x1="767.5" y1="621.8" x2="767.5" y2="624.3"/>
<line x1="780.7" y1="621.8" x2="780.7" y2="626.8"/>
<line x1="867.7" y1="621.8" x2="867.7" y2="626.8"/>
<line x1="918.6" y1="621.8" x2="918.6" y2="626.8"/>
<line x1="954.7" y1="621.8" x2="954.7" y2="624.3"/>
<line x1="982.7" y1="621.8" x2="982.7" y2="626.8"/>
</g>
<text x="570" y="627.5" font-size="16" text-anchor="end">2</text>
<text x="570" y="466.7" font-size="16" text-anchor="end">4</text>
<text x="570" y="305.9" font-size="16" text-anchor="end">6</text>
<text x="570" y="145.1" font-size="16" text-anchor="end">8</text>
<text x="578.7" y="644.8" font-size="16" text-anchor="middle">2</text>
<text x="629.6" y="644.8" font-size="16" text-anchor="middle">3</text>
<text x="780.7" y="644.8" font-size="16" text-anchor="middle">10</text>
<text x="867.7" y="644.8" font-size="16" text-anchor="middle">20</text>
<text x="918.6" y="644.8" font-size="16" text-anchor="middle">30</text>
<text x="681.3" y="661" font-size="16" textLength="199" lengthAdjust="spacingAndGlyphs">Hypocentral distance (km)</text>
<text transform="translate(536.1,354.9) rotate(-90)" font-size="16" textLength="32.6" lengthAdjust="spacingAndGlyphs">MMI</text>
<rect x="63.3" y="672.8" width="418.7" height="111" fill="none" stroke="#6d6d6d" stroke-width="1.3"/>
<line x1="77.3" y1="687.8" x2="114.2" y2="687.8" stroke="#f3a39c" stroke-width="2"/>
<line x1="77.3" y1="706.9" x2="114.2" y2="706.9" stroke="#c9281f" stroke-width="3.6"/>
<circle cx="95.9" cy="726.5" r="4.3" fill="#c9eaf9" stroke="#1f72a6" stroke-width="1.2"/>
<rect x="90.1" y="740.3" width="11.6" height="11.6" fill="#deb0ee" stroke="#9c55bb" stroke-width="1.2"/>
<line x1="77.3" y1="763.4" x2="114.2" y2="763.4" stroke="#2c3f92" stroke-width="2.4"/>
<text x="124.5" y="694.1" font-size="16" textLength="138.2" lengthAdjust="spacingAndGlyphs">Cosmetic damage</text>
<text x="124.5" y="712.9" font-size="16" textLength="110.6" lengthAdjust="spacingAndGlyphs">Major damage</text>
<text x="124.5" y="732.5" font-size="16" textLength="115.9" lengthAdjust="spacingAndGlyphs">OK <tspan font-weight="bold">M</tspan> 4.0 ± 0.25</text>
<text x="124.5" y="751.4" font-size="16" textLength="115.9" lengthAdjust="spacingAndGlyphs">OK <tspan font-weight="bold">M</tspan> 5.5 ± 0.25</text>
<text x="124.5" y="770.2" font-size="16" textLength="96.8" lengthAdjust="spacingAndGlyphs">NAA18 <tspan font-weight="bold">M</tspan> 4.0</text>
<line x1="283.3" y1="687.5" x2="319.4" y2="687.5" stroke="#ad3fb5" stroke-width="2.2"/>
<line x1="283.3" y1="706.4" x2="319.4" y2="706.4" stroke="#8a8a8a" stroke-width="2.4" stroke-dasharray="6 3"/>
<line x1="283.3" y1="725.4" x2="319.4" y2="725.4" stroke="#000" stroke-width="2.6" stroke-dasharray="6 3"/>
<path d="M301.7,741.4l4.6,4.6l-4.6,4.6l-4.6,-4.6z" fill="#e0e0e0" stroke="#1a1a1a" stroke-width="1.3"/>
<text x="328" y="694.1" font-size="16" textLength="96.6" lengthAdjust="spacingAndGlyphs">NAA18 <tspan font-weight="bold">M</tspan> 5.5</text>
<text x="328" y="712.9" font-size="16" textLength="74.2" lengthAdjust="spacingAndGlyphs">A15 <tspan font-weight="bold">M</tspan> 4.0</text>
<text x="328" y="732.5" font-size="16" textLength="74.2" lengthAdjust="spacingAndGlyphs">A15 <tspan font-weight="bold">M</tspan> 5.5</text>
<text x="328" y="751.4" font-size="16" textLength="139.8" lengthAdjust="spacingAndGlyphs">WCSB <tspan font-weight="bold">M</tspan> 4.0 ± 0.25</text>
<rect x="542.3" y="672.8" width="450" height="111" fill="none" stroke="#6d6d6d" stroke-width="1.3"/>
<circle cx="568" cy="688.3" r="2.1" fill="#c2e7f8" stroke="#4a90c0" stroke-width="1"/>
<rect x="565.9" y="704.9" width="4.2" height="4.2" fill="#f3d2f7" stroke="#b066c8" stroke-width="0.95"/>
<circle cx="568" cy="726.7" r="8.2" fill="#3b89c7" stroke="#2a70ad" stroke-width="1"/>
<rect x="558.6" y="741.5" width="18.8" height="9" fill="#ddb0ec" stroke="#9c50b8" stroke-width="1.2"/>
<line x1="558" y1="763.4" x2="578" y2="763.4" stroke="#1777b5" stroke-width="2.3"/>
<text x="592" y="694.3" font-size="16" textLength="91.2" lengthAdjust="spacingAndGlyphs"><tspan font-weight="bold">M</tspan> 4 OK obs.</text>
<text x="592" y="713" font-size="16" textLength="104.4" lengthAdjust="spacingAndGlyphs"><tspan font-weight="bold">M</tspan> 5.5 OK obs.</text>
<text x="592" y="732" font-size="16" textLength="102" lengthAdjust="spacingAndGlyphs"><tspan font-weight="bold">M</tspan> 4.0 median</text>
<text x="592" y="751.5" font-size="16" textLength="102" lengthAdjust="spacingAndGlyphs"><tspan font-weight="bold">M</tspan> 5.5 median</text>
<text x="592" y="770.8" font-size="16" textLength="151.2" lengthAdjust="spacingAndGlyphs"><tspan font-weight="bold">M</tspan> 4.0 predicted-OK</text>
<line x1="784" y1="688.3" x2="809.2" y2="688.3" stroke="#9146cc" stroke-width="2"/>
<line x1="784" y1="707" x2="809.2" y2="707" stroke="#8a8a8a" stroke-width="2.3" stroke-dasharray="5 2.5"/>
<line x1="784" y1="726.2" x2="809.2" y2="726.2" stroke="#000" stroke-width="2.5" stroke-dasharray="5 2.5"/>
<path d="M796.5,740.8l4.6,4.6l-4.6,4.6l-4.6,-4.6z" fill="#e0e0e0" stroke="#1a1a1a" stroke-width="1.3"/>
<text x="816.9" y="693.9" font-size="16" textLength="150.7" lengthAdjust="spacingAndGlyphs"><tspan font-weight="bold">M</tspan> 5.5 predicted-OK</text>
<text x="816.9" y="713" font-size="16" textLength="150" lengthAdjust="spacingAndGlyphs"><tspan font-weight="bold">M</tspan> 4.0 predicted-CA</text>
<text x="816.9" y="732.2" font-size="16" textLength="150" lengthAdjust="spacingAndGlyphs"><tspan font-weight="bold">M</tspan> 5.5 predicted-CA</text>
<text x="816.9" y="751.4" font-size="16" textLength="93.1" lengthAdjust="spacingAndGlyphs"><tspan font-weight="bold">M</tspan> 4.0 WCSB</text>
<text x="816.4" y="770.6" font-size="16" textLength="82.8" lengthAdjust="spacingAndGlyphs">(from PGV)</text>
</svg>
</body></html>
